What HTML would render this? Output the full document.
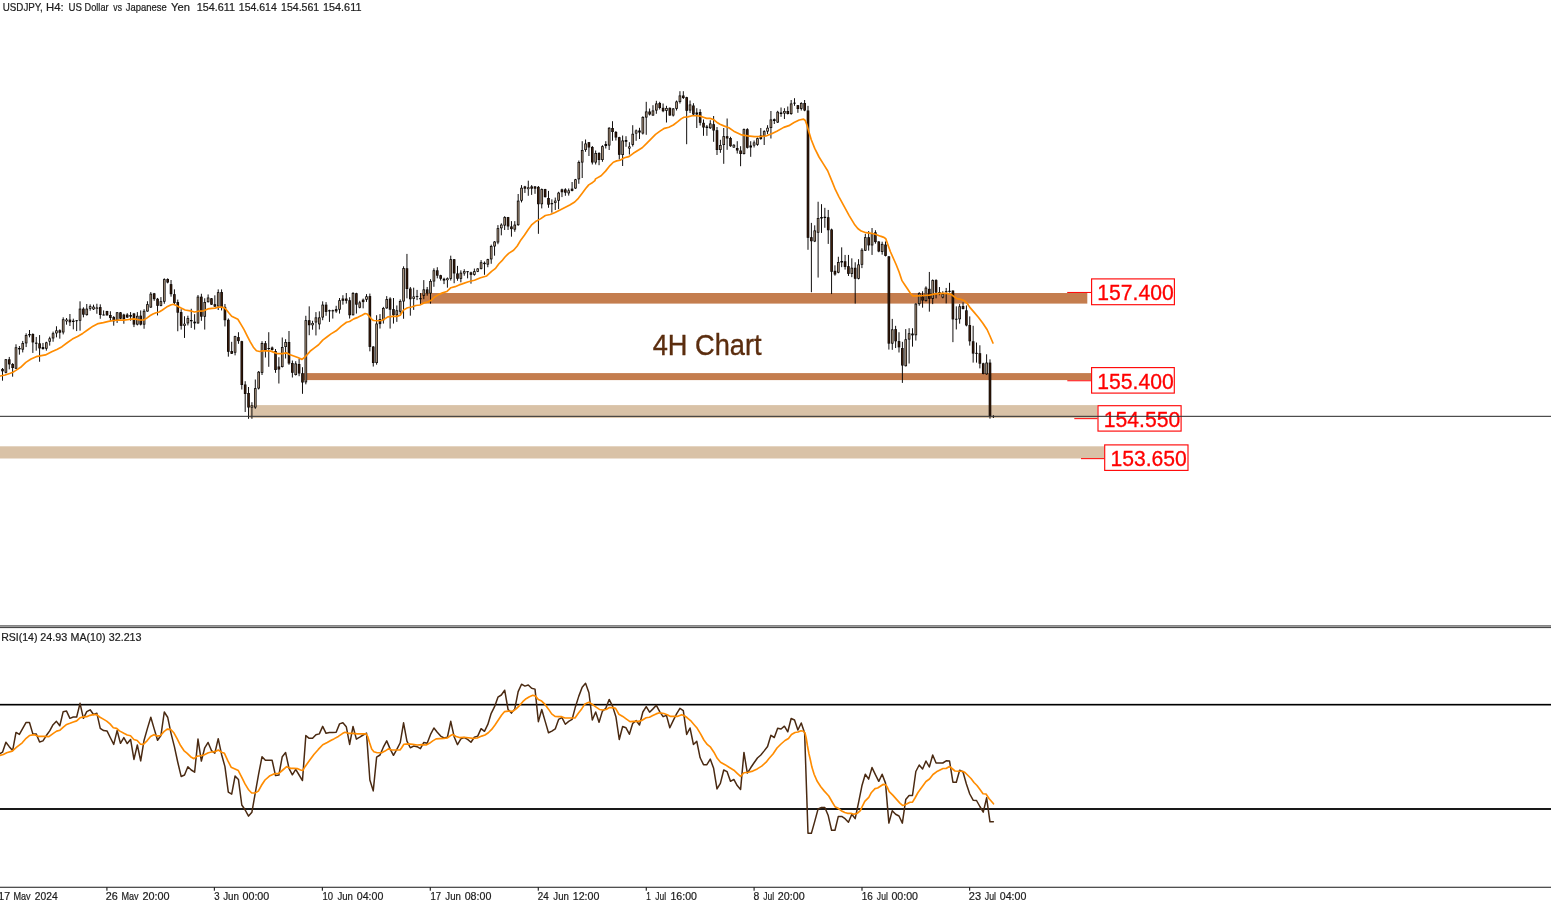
<!DOCTYPE html>
<html lang="en"><head><meta charset="utf-8"><title>USDJPY, H4</title>
<style>html,body{margin:0;padding:0;background:#fff;overflow:hidden}body{width:1551px;height:900px}svg{display:block}text{font-family:"Liberation Sans",Arial,sans-serif;white-space:pre}</style></head><body>
<svg width="1551" height="900" viewBox="0 0 1551 900">
<rect width="1551" height="900" fill="#fff"/>
<rect x="420.6" y="293.0" width="666.7" height="10.6" fill="#c47d4e"/>
<rect x="303.6" y="373.1" width="787.5" height="7" fill="#c47d4e"/>
<rect x="249.5" y="405.1" width="848" height="12.8" fill="#d9c2a7"/>
<rect x="0" y="446.3" width="1104.2" height="12.2" fill="#d9c2a7"/>
<g><rect x="2.04" y="368" width="0.95" height="12.67" fill="#060302"/>
<rect x="1.22" y="368.93" width="2.6" height="2.4" fill="#060302"/>
<rect x="1.92" y="369.53" width="1.2" height="1.2" fill="#3a1c0a"/>
<rect x="5.42" y="359.07" width="0.95" height="14.27" fill="#060302"/>
<rect x="4.59" y="359.33" width="2.6" height="13.33" fill="#060302"/>
<rect x="5.34" y="360.08" width="1.1" height="11.83" fill="#a8927c"/>
<rect x="8.79" y="356.93" width="0.95" height="12.4" fill="#060302"/>
<rect x="7.96" y="359.33" width="2.6" height="5.07" fill="#060302"/>
<rect x="8.66" y="359.93" width="1.2" height="3.87" fill="#3a1c0a"/>
<rect x="12.16" y="363.07" width="0.95" height="13.6" fill="#060302"/>
<rect x="11.33" y="364" width="2.6" height="4" fill="#060302"/>
<rect x="12.03" y="364.6" width="1.2" height="2.8" fill="#3a1c0a"/>
<rect x="15.53" y="344.27" width="0.95" height="24.67" fill="#060302"/>
<rect x="14.7" y="347.33" width="2.6" height="21.33" fill="#060302"/>
<rect x="15.45" y="348.08" width="1.1" height="19.83" fill="#a8927c"/>
<rect x="18.9" y="346" width="0.95" height="8.67" fill="#060302"/>
<rect x="18.07" y="348" width="2.6" height="1.33" fill="#060302"/>
<rect x="22.27" y="340.93" width="0.95" height="11.47" fill="#060302"/>
<rect x="21.44" y="343.07" width="2.6" height="6.53" fill="#060302"/>
<rect x="22.19" y="343.82" width="1.1" height="5.03" fill="#a8927c"/>
<rect x="25.64" y="333.33" width="0.95" height="13.73" fill="#060302"/>
<rect x="24.81" y="335.07" width="2.6" height="8.27" fill="#060302"/>
<rect x="25.56" y="335.82" width="1.1" height="6.77" fill="#a8927c"/>
<rect x="29.01" y="330" width="0.95" height="7.33" fill="#060302"/>
<rect x="28.18" y="334" width="2.6" height="1.33" fill="#060302"/>
<rect x="32.38" y="333.33" width="0.95" height="19.6" fill="#060302"/>
<rect x="31.55" y="334" width="2.6" height="8.4" fill="#060302"/>
<rect x="32.25" y="334.6" width="1.2" height="7.2" fill="#3a1c0a"/>
<rect x="35.75" y="336.93" width="0.95" height="13.73" fill="#060302"/>
<rect x="34.92" y="342.67" width="2.6" height="1.07" fill="#060302"/>
<rect x="39.12" y="335.07" width="0.95" height="26.67" fill="#060302"/>
<rect x="38.29" y="343.33" width="2.6" height="5.07" fill="#060302"/>
<rect x="38.99" y="343.93" width="1.2" height="3.87" fill="#3a1c0a"/>
<rect x="42.49" y="342.93" width="0.95" height="6.67" fill="#060302"/>
<rect x="41.66" y="347.07" width="2.6" height="2" fill="#060302"/>
<rect x="45.86" y="341.73" width="0.95" height="8.93" fill="#060302"/>
<rect x="45.03" y="342.4" width="2.6" height="6.27" fill="#060302"/>
<rect x="45.78" y="343.15" width="1.1" height="4.77" fill="#a8927c"/>
<rect x="49.23" y="336.67" width="0.95" height="8.93" fill="#060302"/>
<rect x="48.4" y="338.4" width="2.6" height="3.2" fill="#060302"/>
<rect x="49.15" y="339.15" width="1.1" height="1.7" fill="#d8c6b2"/>
<rect x="52.6" y="331.6" width="0.95" height="10.13" fill="#060302"/>
<rect x="51.77" y="333.33" width="2.6" height="5.07" fill="#060302"/>
<rect x="52.52" y="334.08" width="1.1" height="3.57" fill="#a8927c"/>
<rect x="55.97" y="326.27" width="0.95" height="11.07" fill="#060302"/>
<rect x="55.14" y="330.4" width="2.6" height="2.93" fill="#060302"/>
<rect x="55.89" y="331.15" width="1.1" height="1.43" fill="#d8c6b2"/>
<rect x="59.34" y="329.33" width="0.95" height="9.33" fill="#060302"/>
<rect x="58.51" y="330.27" width="2.6" height="2.4" fill="#060302"/>
<rect x="59.21" y="330.87" width="1.2" height="1.2" fill="#3a1c0a"/>
<rect x="62.71" y="317.33" width="0.95" height="17.07" fill="#060302"/>
<rect x="61.88" y="319.33" width="2.6" height="13.07" fill="#060302"/>
<rect x="62.63" y="320.08" width="1.1" height="11.57" fill="#a8927c"/>
<rect x="66.08" y="318" width="0.95" height="6.67" fill="#060302"/>
<rect x="65.25" y="319.6" width="2.6" height="1.73" fill="#060302"/>
<rect x="66" y="320.12" width="1.1" height="0.69" fill="#d8c6b2"/>
<rect x="69.45" y="314" width="0.95" height="12" fill="#060302"/>
<rect x="68.62" y="319.6" width="2.6" height="2.67" fill="#060302"/>
<rect x="69.32" y="320.2" width="1.2" height="1.47" fill="#3a1c0a"/>
<rect x="72.82" y="318.67" width="0.95" height="10.67" fill="#060302"/>
<rect x="71.99" y="320.67" width="2.6" height="1.33" fill="#060302"/>
<rect x="76.19" y="320" width="0.95" height="11.07" fill="#060302"/>
<rect x="75.36" y="320.28" width="2.6" height="0.9" fill="#060302"/>
<rect x="79.56" y="301.33" width="0.95" height="29.33" fill="#060302"/>
<rect x="78.73" y="308.67" width="2.6" height="12" fill="#060302"/>
<rect x="79.48" y="309.42" width="1.1" height="10.5" fill="#a8927c"/>
<rect x="82.93" y="307.33" width="0.95" height="10" fill="#060302"/>
<rect x="82.1" y="308.67" width="2.6" height="6" fill="#060302"/>
<rect x="82.8" y="309.27" width="1.2" height="4.8" fill="#3a1c0a"/>
<rect x="86.3" y="304" width="0.95" height="11.6" fill="#060302"/>
<rect x="85.47" y="308.67" width="2.6" height="6.4" fill="#060302"/>
<rect x="86.22" y="309.42" width="1.1" height="4.9" fill="#a8927c"/>
<rect x="89.67" y="304.4" width="0.95" height="6.27" fill="#060302"/>
<rect x="88.85" y="306.27" width="2.6" height="2.4" fill="#060302"/>
<rect x="89.6" y="306.99" width="1.1" height="0.96" fill="#d8c6b2"/>
<rect x="93.04" y="304.67" width="0.95" height="5.33" fill="#060302"/>
<rect x="92.22" y="306.67" width="2.6" height="2.67" fill="#060302"/>
<rect x="92.97" y="307.42" width="1.1" height="1.17" fill="#d8c6b2"/>
<rect x="96.41" y="303.75" width="0.95" height="10" fill="#060302"/>
<rect x="95.59" y="307.5" width="2.6" height="1.5" fill="#060302"/>
<rect x="96.34" y="307.95" width="1.1" height="0.6" fill="#d8c6b2"/>
<rect x="99.78" y="304.33" width="0.95" height="14.42" fill="#060302"/>
<rect x="98.96" y="307.08" width="2.6" height="7.92" fill="#060302"/>
<rect x="99.66" y="307.68" width="1.2" height="6.72" fill="#3a1c0a"/>
<rect x="103.15" y="310.42" width="0.95" height="5" fill="#060302"/>
<rect x="102.33" y="314.55" width="2.6" height="0.9" fill="#060302"/>
<rect x="106.52" y="310.83" width="0.95" height="4.58" fill="#060302"/>
<rect x="105.7" y="311" width="2.6" height="4.42" fill="#060302"/>
<rect x="106.4" y="311.6" width="1.2" height="3.22" fill="#3a1c0a"/>
<rect x="109.89" y="311.25" width="0.95" height="9.58" fill="#060302"/>
<rect x="109.07" y="315" width="2.6" height="2.92" fill="#060302"/>
<rect x="109.77" y="315.6" width="1.2" height="1.72" fill="#3a1c0a"/>
<rect x="113.26" y="316.08" width="0.95" height="9.58" fill="#060302"/>
<rect x="112.44" y="317.08" width="2.6" height="4.17" fill="#060302"/>
<rect x="113.14" y="317.68" width="1.2" height="2.97" fill="#3a1c0a"/>
<rect x="116.63" y="312.08" width="0.95" height="10.83" fill="#060302"/>
<rect x="115.81" y="312.33" width="2.6" height="8.08" fill="#060302"/>
<rect x="116.56" y="313.08" width="1.1" height="6.58" fill="#a8927c"/>
<rect x="120" y="312.08" width="0.95" height="7.08" fill="#060302"/>
<rect x="119.18" y="312.33" width="2.6" height="6.42" fill="#060302"/>
<rect x="119.88" y="312.93" width="1.2" height="5.22" fill="#3a1c0a"/>
<rect x="123.37" y="313.75" width="0.95" height="10" fill="#060302"/>
<rect x="122.55" y="314.58" width="2.6" height="4.58" fill="#060302"/>
<rect x="123.25" y="315.18" width="1.2" height="3.38" fill="#3a1c0a"/>
<rect x="126.74" y="313.17" width="0.95" height="4.75" fill="#060302"/>
<rect x="125.92" y="314.58" width="2.6" height="2.92" fill="#060302"/>
<rect x="126.62" y="315.18" width="1.2" height="1.72" fill="#3a1c0a"/>
<rect x="130.11" y="312.08" width="0.95" height="8.58" fill="#060302"/>
<rect x="129.29" y="315" width="2.6" height="1.67" fill="#060302"/>
<rect x="133.48" y="312.92" width="0.95" height="14.17" fill="#060302"/>
<rect x="132.66" y="313.5" width="2.6" height="11.08" fill="#060302"/>
<rect x="133.36" y="314.1" width="1.2" height="9.88" fill="#3a1c0a"/>
<rect x="136.85" y="312.08" width="0.95" height="13.33" fill="#060302"/>
<rect x="136.03" y="315.83" width="2.6" height="8.75" fill="#060302"/>
<rect x="136.78" y="316.58" width="1.1" height="7.25" fill="#a8927c"/>
<rect x="140.22" y="310.42" width="0.95" height="15" fill="#060302"/>
<rect x="139.4" y="315.67" width="2.6" height="8.92" fill="#060302"/>
<rect x="140.1" y="316.27" width="1.2" height="7.72" fill="#3a1c0a"/>
<rect x="143.59" y="309.17" width="0.95" height="19.58" fill="#060302"/>
<rect x="142.77" y="310.83" width="2.6" height="13.75" fill="#060302"/>
<rect x="143.52" y="311.58" width="1.1" height="12.25" fill="#a8927c"/>
<rect x="146.96" y="301.25" width="0.95" height="10.42" fill="#060302"/>
<rect x="146.14" y="304.17" width="2.6" height="7.33" fill="#060302"/>
<rect x="146.89" y="304.92" width="1.1" height="5.83" fill="#a8927c"/>
<rect x="150.33" y="292.08" width="0.95" height="15.83" fill="#060302"/>
<rect x="149.51" y="293.75" width="2.6" height="13.75" fill="#060302"/>
<rect x="150.26" y="294.5" width="1.1" height="12.25" fill="#a8927c"/>
<rect x="153.7" y="292.92" width="0.95" height="7.92" fill="#060302"/>
<rect x="152.88" y="293.33" width="2.6" height="5.83" fill="#060302"/>
<rect x="153.58" y="293.93" width="1.2" height="4.63" fill="#3a1c0a"/>
<rect x="157.07" y="297.92" width="0.95" height="17.5" fill="#060302"/>
<rect x="156.25" y="298.75" width="2.6" height="7.08" fill="#060302"/>
<rect x="156.95" y="299.35" width="1.2" height="5.88" fill="#3a1c0a"/>
<rect x="160.44" y="297.08" width="0.95" height="9.17" fill="#060302"/>
<rect x="159.62" y="301.25" width="2.6" height="4.58" fill="#060302"/>
<rect x="160.37" y="302" width="1.1" height="3.08" fill="#a8927c"/>
<rect x="163.81" y="278.33" width="0.95" height="25.42" fill="#060302"/>
<rect x="162.99" y="279.17" width="2.6" height="22.5" fill="#060302"/>
<rect x="163.74" y="279.92" width="1.1" height="21" fill="#a8927c"/>
<rect x="167.18" y="278.33" width="0.95" height="5" fill="#060302"/>
<rect x="166.36" y="279" width="2.6" height="3.5" fill="#060302"/>
<rect x="167.06" y="279.6" width="1.2" height="2.3" fill="#3a1c0a"/>
<rect x="170.56" y="280" width="0.95" height="16.67" fill="#060302"/>
<rect x="169.73" y="284.17" width="2.6" height="10" fill="#060302"/>
<rect x="170.43" y="284.77" width="1.2" height="8.8" fill="#3a1c0a"/>
<rect x="173.93" y="289.33" width="0.95" height="14.83" fill="#060302"/>
<rect x="173.1" y="294.17" width="2.6" height="8.75" fill="#060302"/>
<rect x="173.8" y="294.77" width="1.2" height="7.55" fill="#3a1c0a"/>
<rect x="177.3" y="299.58" width="0.95" height="31.67" fill="#060302"/>
<rect x="176.47" y="302.08" width="2.6" height="10.58" fill="#060302"/>
<rect x="177.17" y="302.68" width="1.2" height="9.38" fill="#3a1c0a"/>
<rect x="180.67" y="309.17" width="0.95" height="20.42" fill="#060302"/>
<rect x="179.84" y="312.08" width="2.6" height="13.75" fill="#060302"/>
<rect x="180.54" y="312.68" width="1.2" height="12.55" fill="#3a1c0a"/>
<rect x="184.04" y="316.25" width="0.95" height="21.67" fill="#060302"/>
<rect x="183.21" y="323.75" width="2.6" height="2.08" fill="#060302"/>
<rect x="183.96" y="324.38" width="1.1" height="0.83" fill="#d8c6b2"/>
<rect x="187.41" y="315.67" width="0.95" height="9.75" fill="#060302"/>
<rect x="186.58" y="318.17" width="2.6" height="5.17" fill="#060302"/>
<rect x="187.33" y="318.92" width="1.1" height="3.67" fill="#a8927c"/>
<rect x="190.78" y="308.75" width="0.95" height="19.17" fill="#060302"/>
<rect x="189.95" y="320" width="2.6" height="1.25" fill="#060302"/>
<rect x="194.15" y="314.17" width="0.95" height="15.42" fill="#060302"/>
<rect x="193.32" y="321.67" width="2.6" height="1.67" fill="#060302"/>
<rect x="197.52" y="295" width="0.95" height="28.75" fill="#060302"/>
<rect x="196.69" y="296.67" width="2.6" height="26.67" fill="#060302"/>
<rect x="197.44" y="297.42" width="1.1" height="25.17" fill="#a8927c"/>
<rect x="200.89" y="293.75" width="0.95" height="27.08" fill="#060302"/>
<rect x="200.06" y="296.67" width="2.6" height="20" fill="#060302"/>
<rect x="200.76" y="297.27" width="1.2" height="18.8" fill="#3a1c0a"/>
<rect x="204.26" y="298.27" width="0.95" height="31.29" fill="#060302"/>
<rect x="203.43" y="302" width="2.6" height="14.67" fill="#060302"/>
<rect x="204.18" y="302.75" width="1.1" height="13.17" fill="#a8927c"/>
<rect x="207.63" y="294.44" width="0.95" height="8" fill="#060302"/>
<rect x="206.8" y="297.56" width="2.6" height="4.62" fill="#060302"/>
<rect x="207.55" y="298.31" width="1.1" height="3.12" fill="#a8927c"/>
<rect x="211" y="298" width="0.95" height="6.84" fill="#060302"/>
<rect x="210.17" y="298.27" width="2.6" height="6.4" fill="#060302"/>
<rect x="210.87" y="298.87" width="1.2" height="5.2" fill="#3a1c0a"/>
<rect x="214.37" y="295.33" width="0.95" height="11.56" fill="#060302"/>
<rect x="213.54" y="304.22" width="2.6" height="2.4" fill="#060302"/>
<rect x="214.24" y="304.82" width="1.2" height="1.2" fill="#3a1c0a"/>
<rect x="217.74" y="289.38" width="0.95" height="20.62" fill="#060302"/>
<rect x="216.91" y="292.22" width="2.6" height="14.22" fill="#060302"/>
<rect x="217.66" y="292.97" width="1.1" height="12.72" fill="#a8927c"/>
<rect x="221.11" y="289.38" width="0.95" height="21.07" fill="#060302"/>
<rect x="220.28" y="292.04" width="2.6" height="15.29" fill="#060302"/>
<rect x="220.98" y="292.64" width="1.2" height="14.09" fill="#3a1c0a"/>
<rect x="224.48" y="303.96" width="0.95" height="22.49" fill="#060302"/>
<rect x="223.65" y="306.89" width="2.6" height="13.33" fill="#060302"/>
<rect x="224.35" y="307.49" width="1.2" height="12.13" fill="#3a1c0a"/>
<rect x="227.85" y="318.44" width="0.95" height="38.22" fill="#060302"/>
<rect x="227.02" y="319.78" width="2.6" height="32" fill="#060302"/>
<rect x="227.72" y="320.38" width="1.2" height="30.8" fill="#3a1c0a"/>
<rect x="231.22" y="341.82" width="0.95" height="12.18" fill="#060302"/>
<rect x="230.39" y="351.07" width="2.6" height="2.67" fill="#060302"/>
<rect x="231.09" y="351.67" width="1.2" height="1.47" fill="#3a1c0a"/>
<rect x="234.59" y="335.78" width="0.95" height="19.56" fill="#060302"/>
<rect x="233.76" y="336.22" width="2.6" height="16.44" fill="#060302"/>
<rect x="234.51" y="336.97" width="1.1" height="14.94" fill="#a8927c"/>
<rect x="237.96" y="332.22" width="0.95" height="11.56" fill="#060302"/>
<rect x="237.13" y="337.11" width="2.6" height="4" fill="#060302"/>
<rect x="237.83" y="337.71" width="1.2" height="2.8" fill="#3a1c0a"/>
<rect x="241.33" y="340.8" width="0.95" height="48.7" fill="#060302"/>
<rect x="240.5" y="341.2" width="2.6" height="43.8" fill="#060302"/>
<rect x="241.2" y="341.8" width="1.2" height="42.6" fill="#3a1c0a"/>
<rect x="244.7" y="381.2" width="0.95" height="30.8" fill="#060302"/>
<rect x="243.87" y="384.5" width="2.6" height="9.5" fill="#060302"/>
<rect x="244.57" y="385.1" width="1.2" height="8.3" fill="#3a1c0a"/>
<rect x="248.07" y="387" width="0.95" height="31.8" fill="#060302"/>
<rect x="247.24" y="393" width="2.6" height="14.5" fill="#060302"/>
<rect x="247.94" y="393.6" width="1.2" height="13.3" fill="#3a1c0a"/>
<rect x="251.44" y="402.2" width="0.95" height="16.6" fill="#060302"/>
<rect x="250.61" y="405.5" width="2.6" height="2" fill="#060302"/>
<rect x="251.36" y="406.1" width="1.1" height="0.8" fill="#d8c6b2"/>
<rect x="254.81" y="379.5" width="0.95" height="29.3" fill="#060302"/>
<rect x="253.99" y="388.2" width="2.6" height="19.3" fill="#060302"/>
<rect x="254.74" y="388.95" width="1.1" height="17.8" fill="#a8927c"/>
<rect x="258.18" y="371" width="0.95" height="18.5" fill="#060302"/>
<rect x="257.36" y="371.8" width="2.6" height="16.7" fill="#060302"/>
<rect x="258.11" y="372.55" width="1.1" height="15.2" fill="#a8927c"/>
<rect x="261.55" y="341.2" width="0.95" height="33.8" fill="#060302"/>
<rect x="260.73" y="343" width="2.6" height="29.8" fill="#060302"/>
<rect x="261.48" y="343.75" width="1.1" height="28.3" fill="#a8927c"/>
<rect x="264.92" y="341" width="0.95" height="16.5" fill="#060302"/>
<rect x="264.1" y="343.2" width="2.6" height="6.8" fill="#060302"/>
<rect x="264.8" y="343.8" width="1.2" height="5.6" fill="#3a1c0a"/>
<rect x="268.29" y="332.2" width="0.95" height="34.6" fill="#060302"/>
<rect x="267.47" y="348" width="2.6" height="1" fill="#060302"/>
<rect x="271.66" y="346.5" width="0.95" height="4" fill="#060302"/>
<rect x="270.84" y="347.5" width="2.6" height="2.5" fill="#060302"/>
<rect x="271.54" y="348.1" width="1.2" height="1.3" fill="#3a1c0a"/>
<rect x="275.03" y="349" width="0.95" height="23.8" fill="#060302"/>
<rect x="274.21" y="351" width="2.6" height="19" fill="#060302"/>
<rect x="274.91" y="351.6" width="1.2" height="17.8" fill="#3a1c0a"/>
<rect x="278.4" y="357.2" width="0.95" height="26.3" fill="#060302"/>
<rect x="277.58" y="366.5" width="2.6" height="3" fill="#060302"/>
<rect x="278.28" y="367.1" width="1.2" height="1.8" fill="#3a1c0a"/>
<rect x="281.77" y="337.5" width="0.95" height="30" fill="#060302"/>
<rect x="280.95" y="347" width="2.6" height="20" fill="#060302"/>
<rect x="281.7" y="347.75" width="1.1" height="18.5" fill="#a8927c"/>
<rect x="285.14" y="339.2" width="0.95" height="19.3" fill="#060302"/>
<rect x="284.32" y="342" width="2.6" height="5" fill="#060302"/>
<rect x="285.07" y="342.75" width="1.1" height="3.5" fill="#a8927c"/>
<rect x="288.51" y="331" width="0.95" height="33.8" fill="#060302"/>
<rect x="287.69" y="342" width="2.6" height="21.5" fill="#060302"/>
<rect x="288.39" y="342.6" width="1.2" height="20.3" fill="#3a1c0a"/>
<rect x="291.88" y="360.5" width="0.95" height="17" fill="#060302"/>
<rect x="291.06" y="363" width="2.6" height="9.8" fill="#060302"/>
<rect x="291.76" y="363.6" width="1.2" height="8.6" fill="#3a1c0a"/>
<rect x="295.25" y="361.2" width="0.95" height="14.3" fill="#060302"/>
<rect x="294.43" y="363.5" width="2.6" height="11.5" fill="#060302"/>
<rect x="295.18" y="364.25" width="1.1" height="10" fill="#a8927c"/>
<rect x="298.62" y="359" width="0.95" height="17.2" fill="#060302"/>
<rect x="297.8" y="364" width="2.6" height="9.5" fill="#060302"/>
<rect x="298.5" y="364.6" width="1.2" height="8.3" fill="#3a1c0a"/>
<rect x="301.99" y="367.2" width="0.95" height="26.6" fill="#060302"/>
<rect x="301.17" y="373.2" width="2.6" height="9.3" fill="#060302"/>
<rect x="301.87" y="373.8" width="1.2" height="8.1" fill="#3a1c0a"/>
<rect x="305.36" y="315.78" width="0.95" height="68.56" fill="#060302"/>
<rect x="304.54" y="320.22" width="2.6" height="62.11" fill="#060302"/>
<rect x="305.29" y="320.97" width="1.1" height="60.61" fill="#a8927c"/>
<rect x="308.73" y="306.33" width="0.95" height="28.89" fill="#060302"/>
<rect x="307.91" y="320.22" width="2.6" height="5" fill="#060302"/>
<rect x="308.61" y="320.82" width="1.2" height="3.8" fill="#3a1c0a"/>
<rect x="312.1" y="320.78" width="0.95" height="8.89" fill="#060302"/>
<rect x="311.28" y="323" width="2.6" height="2.22" fill="#060302"/>
<rect x="312.03" y="323.67" width="1.1" height="0.89" fill="#d8c6b2"/>
<rect x="315.47" y="312.11" width="0.95" height="23.33" fill="#060302"/>
<rect x="314.65" y="317.44" width="2.6" height="5" fill="#060302"/>
<rect x="315.4" y="318.19" width="1.1" height="3.5" fill="#a8927c"/>
<rect x="318.84" y="311.33" width="0.95" height="18.11" fill="#060302"/>
<rect x="318.02" y="317.44" width="2.6" height="6.89" fill="#060302"/>
<rect x="318.77" y="318.19" width="1.1" height="5.39" fill="#a8927c"/>
<rect x="322.21" y="301.33" width="0.95" height="18.89" fill="#060302"/>
<rect x="321.39" y="304.67" width="2.6" height="12.78" fill="#060302"/>
<rect x="322.14" y="305.42" width="1.1" height="11.28" fill="#a8927c"/>
<rect x="325.58" y="302.11" width="0.95" height="13.67" fill="#060302"/>
<rect x="324.76" y="304.67" width="2.6" height="7.22" fill="#060302"/>
<rect x="325.46" y="305.27" width="1.2" height="6.02" fill="#3a1c0a"/>
<rect x="328.95" y="309.67" width="0.95" height="12.22" fill="#060302"/>
<rect x="328.13" y="310.22" width="2.6" height="1.11" fill="#060302"/>
<rect x="332.32" y="309.67" width="0.95" height="8.89" fill="#060302"/>
<rect x="331.5" y="310.22" width="2.6" height="1.11" fill="#060302"/>
<rect x="335.69" y="305.78" width="0.95" height="7" fill="#060302"/>
<rect x="334.87" y="309.11" width="2.6" height="2.22" fill="#060302"/>
<rect x="335.57" y="309.71" width="1.2" height="1.02" fill="#3a1c0a"/>
<rect x="339.06" y="298" width="0.95" height="15.56" fill="#060302"/>
<rect x="338.24" y="300.22" width="2.6" height="9.44" fill="#060302"/>
<rect x="338.99" y="300.97" width="1.1" height="7.94" fill="#a8927c"/>
<rect x="342.44" y="295.22" width="0.95" height="9.44" fill="#060302"/>
<rect x="341.61" y="298.56" width="2.6" height="2.22" fill="#060302"/>
<rect x="342.31" y="299.16" width="1.2" height="1.02" fill="#3a1c0a"/>
<rect x="345.81" y="293" width="0.95" height="10.56" fill="#060302"/>
<rect x="344.98" y="298.56" width="2.6" height="2.22" fill="#060302"/>
<rect x="345.68" y="299.16" width="1.2" height="1.02" fill="#3a1c0a"/>
<rect x="349.18" y="297.22" width="0.95" height="21.33" fill="#060302"/>
<rect x="348.35" y="300.22" width="2.6" height="15" fill="#060302"/>
<rect x="349.05" y="300.82" width="1.2" height="13.8" fill="#3a1c0a"/>
<rect x="352.55" y="292.11" width="0.95" height="23.33" fill="#060302"/>
<rect x="351.72" y="293" width="2.6" height="22.22" fill="#060302"/>
<rect x="352.47" y="293.75" width="1.1" height="20.72" fill="#a8927c"/>
<rect x="355.92" y="292.78" width="0.95" height="20.78" fill="#060302"/>
<rect x="355.09" y="293.22" width="2.6" height="11.44" fill="#060302"/>
<rect x="355.79" y="293.82" width="1.2" height="10.24" fill="#3a1c0a"/>
<rect x="359.29" y="300.78" width="0.95" height="7.56" fill="#060302"/>
<rect x="358.46" y="302.44" width="2.6" height="5.22" fill="#060302"/>
<rect x="359.21" y="303.19" width="1.1" height="3.72" fill="#a8927c"/>
<rect x="362.66" y="298.56" width="0.95" height="9.78" fill="#060302"/>
<rect x="361.83" y="299.67" width="2.6" height="2.44" fill="#060302"/>
<rect x="362.53" y="300.27" width="1.2" height="1.24" fill="#3a1c0a"/>
<rect x="366.03" y="294.11" width="0.95" height="7.78" fill="#060302"/>
<rect x="365.2" y="296.33" width="2.6" height="3.33" fill="#060302"/>
<rect x="365.95" y="297.08" width="1.1" height="1.83" fill="#d8c6b2"/>
<rect x="369.4" y="293.56" width="0.95" height="57.78" fill="#060302"/>
<rect x="368.57" y="296.11" width="2.6" height="50.78" fill="#060302"/>
<rect x="369.27" y="296.71" width="1.2" height="49.58" fill="#3a1c0a"/>
<rect x="372.77" y="346.11" width="0.95" height="20.44" fill="#060302"/>
<rect x="371.94" y="346.56" width="2.6" height="16.44" fill="#060302"/>
<rect x="372.64" y="347.16" width="1.2" height="15.24" fill="#3a1c0a"/>
<rect x="376.14" y="315.22" width="0.95" height="49.44" fill="#060302"/>
<rect x="375.31" y="323.56" width="2.6" height="39.44" fill="#060302"/>
<rect x="376.06" y="324.31" width="1.1" height="37.94" fill="#a8927c"/>
<rect x="379.51" y="314.11" width="0.95" height="14.44" fill="#060302"/>
<rect x="378.68" y="319.11" width="2.6" height="5" fill="#060302"/>
<rect x="379.38" y="319.71" width="1.2" height="3.8" fill="#3a1c0a"/>
<rect x="382.88" y="306.89" width="0.95" height="16.67" fill="#060302"/>
<rect x="382.05" y="308" width="2.6" height="12.22" fill="#060302"/>
<rect x="382.8" y="308.75" width="1.1" height="10.72" fill="#a8927c"/>
<rect x="386.25" y="296.11" width="0.95" height="12.67" fill="#060302"/>
<rect x="385.42" y="299.11" width="2.6" height="9.22" fill="#060302"/>
<rect x="386.17" y="299.86" width="1.1" height="7.72" fill="#a8927c"/>
<rect x="389.62" y="297.22" width="0.95" height="31.33" fill="#060302"/>
<rect x="388.79" y="298.56" width="2.6" height="11.11" fill="#060302"/>
<rect x="389.49" y="299.16" width="1.2" height="9.91" fill="#3a1c0a"/>
<rect x="392.99" y="298" width="0.95" height="25.56" fill="#060302"/>
<rect x="392.16" y="309.11" width="2.6" height="6.11" fill="#060302"/>
<rect x="392.86" y="309.71" width="1.2" height="4.91" fill="#3a1c0a"/>
<rect x="396.36" y="305.44" width="0.95" height="16.44" fill="#060302"/>
<rect x="395.53" y="310.33" width="2.6" height="4.89" fill="#060302"/>
<rect x="396.28" y="311.08" width="1.1" height="3.39" fill="#a8927c"/>
<rect x="399.73" y="299.4" width="0.95" height="14.93" fill="#060302"/>
<rect x="398.9" y="301" width="2.6" height="10.67" fill="#060302"/>
<rect x="399.65" y="301.75" width="1.1" height="9.17" fill="#a8927c"/>
<rect x="403.1" y="266.33" width="0.95" height="52.44" fill="#060302"/>
<rect x="402.27" y="268.11" width="2.6" height="33.33" fill="#060302"/>
<rect x="403.02" y="268.86" width="1.1" height="31.83" fill="#a8927c"/>
<rect x="406.47" y="253.89" width="0.95" height="44.44" fill="#060302"/>
<rect x="405.64" y="268.29" width="2.6" height="20.71" fill="#060302"/>
<rect x="406.34" y="268.89" width="1.2" height="19.51" fill="#3a1c0a"/>
<rect x="409.84" y="286.96" width="0.95" height="28.71" fill="#060302"/>
<rect x="409.01" y="288.56" width="2.6" height="10.67" fill="#060302"/>
<rect x="409.71" y="289.16" width="1.2" height="9.47" fill="#3a1c0a"/>
<rect x="413.21" y="287.67" width="0.95" height="22.22" fill="#060302"/>
<rect x="412.38" y="296.56" width="2.6" height="2.22" fill="#060302"/>
<rect x="413.13" y="297.22" width="1.1" height="0.89" fill="#d8c6b2"/>
<rect x="416.58" y="289.89" width="0.95" height="10.22" fill="#060302"/>
<rect x="415.75" y="295.97" width="2.6" height="0.9" fill="#060302"/>
<rect x="419.95" y="293" width="0.95" height="11.11" fill="#060302"/>
<rect x="419.12" y="298.16" width="2.6" height="1.07" fill="#060302"/>
<rect x="423.32" y="280.11" width="0.95" height="19.11" fill="#060302"/>
<rect x="422.5" y="289.44" width="2.6" height="6.22" fill="#060302"/>
<rect x="423.25" y="290.19" width="1.1" height="4.72" fill="#a8927c"/>
<rect x="426.69" y="286.96" width="0.95" height="8.71" fill="#060302"/>
<rect x="425.87" y="289.44" width="2.6" height="4" fill="#060302"/>
<rect x="426.57" y="290.04" width="1.2" height="2.8" fill="#3a1c0a"/>
<rect x="430.06" y="279.22" width="0.95" height="24.44" fill="#060302"/>
<rect x="429.24" y="281" width="2.6" height="12.44" fill="#060302"/>
<rect x="429.99" y="281.75" width="1.1" height="10.94" fill="#a8927c"/>
<rect x="433.43" y="268.29" width="0.95" height="18.49" fill="#060302"/>
<rect x="432.61" y="270.33" width="2.6" height="11.11" fill="#060302"/>
<rect x="433.36" y="271.08" width="1.1" height="9.61" fill="#a8927c"/>
<rect x="436.8" y="267.22" width="0.95" height="11.11" fill="#060302"/>
<rect x="435.98" y="270.33" width="2.6" height="5.33" fill="#060302"/>
<rect x="436.68" y="270.93" width="1.2" height="4.13" fill="#3a1c0a"/>
<rect x="440.17" y="274.78" width="0.95" height="5.78" fill="#060302"/>
<rect x="439.35" y="275.22" width="2.6" height="3.56" fill="#060302"/>
<rect x="440.05" y="275.82" width="1.2" height="2.36" fill="#3a1c0a"/>
<rect x="443.54" y="277.71" width="0.95" height="6.4" fill="#060302"/>
<rect x="442.72" y="278.78" width="2.6" height="1.78" fill="#060302"/>
<rect x="446.91" y="277.44" width="0.95" height="10.22" fill="#060302"/>
<rect x="446.09" y="278.33" width="2.6" height="1.78" fill="#060302"/>
<rect x="446.84" y="278.87" width="1.1" height="0.71" fill="#d8c6b2"/>
<rect x="450.28" y="255.67" width="0.95" height="24.89" fill="#060302"/>
<rect x="449.46" y="259.22" width="2.6" height="19.56" fill="#060302"/>
<rect x="450.21" y="259.97" width="1.1" height="18.06" fill="#a8927c"/>
<rect x="453.65" y="259.04" width="0.95" height="24.18" fill="#060302"/>
<rect x="452.83" y="259.22" width="2.6" height="14.22" fill="#060302"/>
<rect x="453.53" y="259.82" width="1.2" height="13.02" fill="#3a1c0a"/>
<rect x="457.02" y="265.89" width="0.95" height="14.84" fill="#060302"/>
<rect x="456.2" y="273.44" width="2.6" height="5.33" fill="#060302"/>
<rect x="456.9" y="274.04" width="1.2" height="4.13" fill="#3a1c0a"/>
<rect x="460.39" y="270.33" width="0.95" height="12" fill="#060302"/>
<rect x="459.57" y="272.73" width="2.6" height="6.04" fill="#060302"/>
<rect x="460.32" y="273.48" width="1.1" height="4.54" fill="#a8927c"/>
<rect x="463.76" y="269.18" width="0.95" height="6.49" fill="#060302"/>
<rect x="462.94" y="271.22" width="2.6" height="2.22" fill="#060302"/>
<rect x="463.69" y="271.89" width="1.1" height="0.89" fill="#d8c6b2"/>
<rect x="467.13" y="271.22" width="0.95" height="7.11" fill="#060302"/>
<rect x="466.31" y="271.22" width="2.6" height="0.9" fill="#060302"/>
<rect x="470.5" y="271.67" width="0.95" height="12" fill="#060302"/>
<rect x="469.68" y="272.38" width="2.6" height="2.4" fill="#060302"/>
<rect x="470.38" y="272.98" width="1.2" height="1.2" fill="#3a1c0a"/>
<rect x="473.87" y="268.56" width="0.95" height="7.11" fill="#060302"/>
<rect x="473.05" y="271.22" width="2.6" height="3.56" fill="#060302"/>
<rect x="473.8" y="271.97" width="1.1" height="2.06" fill="#d8c6b2"/>
<rect x="477.24" y="268.11" width="0.95" height="4" fill="#060302"/>
<rect x="476.42" y="268.56" width="2.6" height="3.11" fill="#060302"/>
<rect x="477.17" y="269.31" width="1.1" height="1.61" fill="#d8c6b2"/>
<rect x="480.61" y="260.11" width="0.95" height="9.33" fill="#060302"/>
<rect x="479.79" y="262.33" width="2.6" height="6.49" fill="#060302"/>
<rect x="480.54" y="263.08" width="1.1" height="4.99" fill="#a8927c"/>
<rect x="483.98" y="261.44" width="0.95" height="13.33" fill="#060302"/>
<rect x="483.16" y="262.78" width="2.6" height="1.33" fill="#060302"/>
<rect x="487.35" y="258.78" width="0.95" height="8.44" fill="#060302"/>
<rect x="486.53" y="259.22" width="2.6" height="5.33" fill="#060302"/>
<rect x="487.28" y="259.97" width="1.1" height="3.83" fill="#a8927c"/>
<rect x="490.72" y="244.67" width="0.95" height="19.11" fill="#060302"/>
<rect x="489.9" y="246" width="2.6" height="13.33" fill="#060302"/>
<rect x="490.65" y="246.75" width="1.1" height="11.83" fill="#a8927c"/>
<rect x="494.09" y="241.11" width="0.95" height="14.58" fill="#060302"/>
<rect x="493.27" y="241.56" width="2.6" height="4.89" fill="#060302"/>
<rect x="494.02" y="242.31" width="1.1" height="3.39" fill="#a8927c"/>
<rect x="497.46" y="225.11" width="0.95" height="19.11" fill="#060302"/>
<rect x="496.64" y="228.22" width="2.6" height="14.22" fill="#060302"/>
<rect x="497.39" y="228.97" width="1.1" height="12.72" fill="#a8927c"/>
<rect x="500.83" y="223.33" width="0.95" height="12" fill="#060302"/>
<rect x="500.01" y="224.67" width="2.6" height="3.56" fill="#060302"/>
<rect x="500.76" y="225.42" width="1.1" height="2.06" fill="#d8c6b2"/>
<rect x="504.2" y="216.22" width="0.95" height="13.78" fill="#060302"/>
<rect x="503.38" y="217.11" width="2.6" height="8.44" fill="#060302"/>
<rect x="504.13" y="217.86" width="1.1" height="6.94" fill="#a8927c"/>
<rect x="507.57" y="216.93" width="0.95" height="13.07" fill="#060302"/>
<rect x="506.75" y="217.11" width="2.6" height="9.33" fill="#060302"/>
<rect x="507.45" y="217.71" width="1.2" height="8.13" fill="#3a1c0a"/>
<rect x="510.95" y="221.11" width="0.95" height="15.56" fill="#060302"/>
<rect x="510.12" y="226.44" width="2.6" height="2.67" fill="#060302"/>
<rect x="510.82" y="227.04" width="1.2" height="1.47" fill="#3a1c0a"/>
<rect x="514.32" y="221.11" width="0.95" height="10.67" fill="#060302"/>
<rect x="513.49" y="224.67" width="2.6" height="4.89" fill="#060302"/>
<rect x="514.24" y="225.42" width="1.1" height="3.39" fill="#a8927c"/>
<rect x="517.69" y="194" width="0.95" height="31.82" fill="#060302"/>
<rect x="516.86" y="200.67" width="2.6" height="24.44" fill="#060302"/>
<rect x="517.61" y="201.42" width="1.1" height="22.94" fill="#a8927c"/>
<rect x="521.06" y="185.11" width="0.95" height="17.33" fill="#060302"/>
<rect x="520.23" y="187.78" width="2.6" height="12.89" fill="#060302"/>
<rect x="520.98" y="188.53" width="1.1" height="11.39" fill="#a8927c"/>
<rect x="524.43" y="185.82" width="0.95" height="7.11" fill="#060302"/>
<rect x="523.6" y="186.44" width="2.6" height="2.22" fill="#060302"/>
<rect x="524.3" y="187.04" width="1.2" height="1.02" fill="#3a1c0a"/>
<rect x="527.8" y="180.67" width="0.95" height="15.11" fill="#060302"/>
<rect x="526.97" y="187.33" width="2.6" height="1.78" fill="#060302"/>
<rect x="527.72" y="187.87" width="1.1" height="0.71" fill="#d8c6b2"/>
<rect x="531.17" y="185.11" width="0.95" height="9.78" fill="#060302"/>
<rect x="530.34" y="186.44" width="2.6" height="2.22" fill="#060302"/>
<rect x="531.04" y="187.04" width="1.2" height="1.02" fill="#3a1c0a"/>
<rect x="534.54" y="186" width="0.95" height="7.82" fill="#060302"/>
<rect x="533.71" y="186.44" width="2.6" height="2.22" fill="#060302"/>
<rect x="534.41" y="187.04" width="1.2" height="1.02" fill="#3a1c0a"/>
<rect x="537.91" y="186" width="0.95" height="47.82" fill="#060302"/>
<rect x="537.08" y="186.89" width="2.6" height="17.33" fill="#060302"/>
<rect x="537.78" y="187.49" width="1.2" height="16.13" fill="#3a1c0a"/>
<rect x="541.28" y="188.49" width="0.95" height="19.91" fill="#060302"/>
<rect x="540.45" y="189.11" width="2.6" height="15.11" fill="#060302"/>
<rect x="541.2" y="189.86" width="1.1" height="13.61" fill="#a8927c"/>
<rect x="544.65" y="188.84" width="0.95" height="8.71" fill="#060302"/>
<rect x="543.82" y="189.11" width="2.6" height="8" fill="#060302"/>
<rect x="544.52" y="189.71" width="1.2" height="6.8" fill="#3a1c0a"/>
<rect x="548.02" y="190.89" width="0.95" height="16.89" fill="#060302"/>
<rect x="547.19" y="198" width="2.6" height="6.67" fill="#060302"/>
<rect x="547.89" y="198.6" width="1.2" height="5.47" fill="#3a1c0a"/>
<rect x="551.39" y="199.33" width="0.95" height="13.33" fill="#060302"/>
<rect x="550.56" y="203.07" width="2.6" height="1.16" fill="#060302"/>
<rect x="554.76" y="197.56" width="0.95" height="12.44" fill="#060302"/>
<rect x="553.93" y="200.67" width="2.6" height="2.22" fill="#060302"/>
<rect x="554.68" y="201.33" width="1.1" height="0.89" fill="#d8c6b2"/>
<rect x="558.13" y="191.78" width="0.95" height="17.33" fill="#060302"/>
<rect x="557.3" y="192.67" width="2.6" height="8" fill="#060302"/>
<rect x="558.05" y="193.42" width="1.1" height="6.5" fill="#a8927c"/>
<rect x="561.5" y="188.67" width="0.95" height="8.44" fill="#060302"/>
<rect x="560.67" y="189.38" width="2.6" height="2.84" fill="#060302"/>
<rect x="561.37" y="189.98" width="1.2" height="1.64" fill="#3a1c0a"/>
<rect x="564.87" y="188.22" width="0.95" height="7.56" fill="#060302"/>
<rect x="564.04" y="189.38" width="2.6" height="3.29" fill="#060302"/>
<rect x="564.74" y="189.98" width="1.2" height="2.09" fill="#3a1c0a"/>
<rect x="568.24" y="188.49" width="0.95" height="7.11" fill="#060302"/>
<rect x="567.41" y="190.44" width="2.6" height="2.84" fill="#060302"/>
<rect x="568.16" y="191.19" width="1.1" height="1.34" fill="#d8c6b2"/>
<rect x="571.61" y="182" width="0.95" height="9.33" fill="#060302"/>
<rect x="570.78" y="188.67" width="2.6" height="2.22" fill="#060302"/>
<rect x="571.48" y="189.27" width="1.2" height="1.02" fill="#3a1c0a"/>
<rect x="574.98" y="178.89" width="0.95" height="9.96" fill="#060302"/>
<rect x="574.15" y="179.33" width="2.6" height="9.16" fill="#060302"/>
<rect x="574.9" y="180.08" width="1.1" height="7.66" fill="#a8927c"/>
<rect x="578.35" y="160.5" width="0.95" height="23.3" fill="#060302"/>
<rect x="577.52" y="162" width="2.6" height="17.3" fill="#060302"/>
<rect x="578.27" y="162.75" width="1.1" height="15.8" fill="#a8927c"/>
<rect x="581.72" y="141.2" width="0.95" height="36.8" fill="#060302"/>
<rect x="580.89" y="150" width="2.6" height="12.5" fill="#060302"/>
<rect x="581.64" y="150.75" width="1.1" height="11" fill="#a8927c"/>
<rect x="585.09" y="139.5" width="0.95" height="12.3" fill="#060302"/>
<rect x="584.26" y="143.5" width="2.6" height="6.5" fill="#060302"/>
<rect x="585.01" y="144.25" width="1.1" height="5" fill="#a8927c"/>
<rect x="588.46" y="142" width="0.95" height="14" fill="#060302"/>
<rect x="587.63" y="142.2" width="2.6" height="5.3" fill="#060302"/>
<rect x="588.33" y="142.8" width="1.2" height="4.1" fill="#3a1c0a"/>
<rect x="591.83" y="146" width="0.95" height="18.5" fill="#060302"/>
<rect x="591" y="147" width="2.6" height="15.5" fill="#060302"/>
<rect x="591.71" y="147.6" width="1.2" height="14.3" fill="#3a1c0a"/>
<rect x="595.2" y="150.5" width="0.95" height="14" fill="#060302"/>
<rect x="594.38" y="153" width="2.6" height="9.5" fill="#060302"/>
<rect x="595.13" y="153.75" width="1.1" height="8" fill="#a8927c"/>
<rect x="598.57" y="152.2" width="0.95" height="13" fill="#060302"/>
<rect x="597.75" y="153" width="2.6" height="7" fill="#060302"/>
<rect x="598.45" y="153.6" width="1.2" height="5.8" fill="#3a1c0a"/>
<rect x="601.94" y="145.2" width="0.95" height="16.6" fill="#060302"/>
<rect x="601.12" y="146.2" width="2.6" height="13.8" fill="#060302"/>
<rect x="601.87" y="146.95" width="1.1" height="12.3" fill="#a8927c"/>
<rect x="605.31" y="141.2" width="0.95" height="7.3" fill="#060302"/>
<rect x="604.49" y="144" width="2.6" height="2" fill="#060302"/>
<rect x="608.68" y="127.2" width="0.95" height="22.8" fill="#060302"/>
<rect x="607.86" y="127.8" width="2.6" height="17.7" fill="#060302"/>
<rect x="608.61" y="128.55" width="1.1" height="16.2" fill="#a8927c"/>
<rect x="612.05" y="121.2" width="0.95" height="19.6" fill="#060302"/>
<rect x="611.23" y="128" width="2.6" height="4" fill="#060302"/>
<rect x="611.93" y="128.6" width="1.2" height="2.8" fill="#3a1c0a"/>
<rect x="615.42" y="131" width="0.95" height="9.5" fill="#060302"/>
<rect x="614.6" y="132" width="2.6" height="5.5" fill="#060302"/>
<rect x="615.3" y="132.6" width="1.2" height="4.3" fill="#3a1c0a"/>
<rect x="618.79" y="136.8" width="0.95" height="22.7" fill="#060302"/>
<rect x="617.97" y="137.2" width="2.6" height="17.6" fill="#060302"/>
<rect x="618.67" y="137.8" width="1.2" height="16.4" fill="#3a1c0a"/>
<rect x="622.16" y="135.5" width="0.95" height="30.5" fill="#060302"/>
<rect x="621.34" y="140.5" width="2.6" height="14.5" fill="#060302"/>
<rect x="622.09" y="141.25" width="1.1" height="13" fill="#a8927c"/>
<rect x="625.53" y="136.2" width="0.95" height="10.6" fill="#060302"/>
<rect x="624.71" y="140" width="2.6" height="1.8" fill="#060302"/>
<rect x="628.9" y="142.2" width="0.95" height="12.3" fill="#060302"/>
<rect x="628.08" y="146.5" width="2.6" height="2" fill="#060302"/>
<rect x="628.83" y="147.1" width="1.1" height="0.8" fill="#d8c6b2"/>
<rect x="632.27" y="125.2" width="0.95" height="21.3" fill="#060302"/>
<rect x="631.45" y="133.8" width="2.6" height="11" fill="#060302"/>
<rect x="632.2" y="134.55" width="1.1" height="9.5" fill="#a8927c"/>
<rect x="635.64" y="129.5" width="0.95" height="11.3" fill="#060302"/>
<rect x="634.82" y="130.5" width="2.6" height="3" fill="#060302"/>
<rect x="635.57" y="131.25" width="1.1" height="1.5" fill="#d8c6b2"/>
<rect x="639.01" y="127.8" width="0.95" height="11.2" fill="#060302"/>
<rect x="638.19" y="130.5" width="2.6" height="2" fill="#060302"/>
<rect x="642.38" y="116.2" width="0.95" height="18.3" fill="#060302"/>
<rect x="641.56" y="117" width="2.6" height="16.5" fill="#060302"/>
<rect x="642.31" y="117.75" width="1.1" height="15" fill="#a8927c"/>
<rect x="645.75" y="101.8" width="0.95" height="33" fill="#060302"/>
<rect x="644.93" y="111.5" width="2.6" height="6" fill="#060302"/>
<rect x="645.68" y="112.25" width="1.1" height="4.5" fill="#a8927c"/>
<rect x="649.12" y="108.5" width="0.95" height="7" fill="#060302"/>
<rect x="648.3" y="111.5" width="2.6" height="3" fill="#060302"/>
<rect x="649" y="112.1" width="1.2" height="1.8" fill="#3a1c0a"/>
<rect x="652.49" y="105.2" width="0.95" height="10.6" fill="#060302"/>
<rect x="651.67" y="110.5" width="2.6" height="5" fill="#060302"/>
<rect x="652.42" y="111.25" width="1.1" height="3.5" fill="#a8927c"/>
<rect x="655.86" y="100.8" width="0.95" height="13" fill="#060302"/>
<rect x="655.04" y="103.5" width="2.6" height="7" fill="#060302"/>
<rect x="655.79" y="104.25" width="1.1" height="5.5" fill="#a8927c"/>
<rect x="659.23" y="101.8" width="0.95" height="7.7" fill="#060302"/>
<rect x="658.41" y="103" width="2.6" height="5" fill="#060302"/>
<rect x="659.11" y="103.6" width="1.2" height="3.8" fill="#3a1c0a"/>
<rect x="662.6" y="103.5" width="0.95" height="8.7" fill="#060302"/>
<rect x="661.78" y="107.8" width="2.6" height="3.4" fill="#060302"/>
<rect x="662.48" y="108.4" width="1.2" height="2.2" fill="#3a1c0a"/>
<rect x="665.97" y="105.8" width="0.95" height="16.7" fill="#060302"/>
<rect x="665.15" y="108" width="2.6" height="2.8" fill="#060302"/>
<rect x="665.9" y="108.75" width="1.1" height="1.3" fill="#d8c6b2"/>
<rect x="669.34" y="107.5" width="0.95" height="8.3" fill="#060302"/>
<rect x="668.52" y="107.8" width="2.6" height="7.7" fill="#060302"/>
<rect x="669.22" y="108.4" width="1.2" height="6.5" fill="#3a1c0a"/>
<rect x="672.71" y="108" width="0.95" height="8.5" fill="#060302"/>
<rect x="671.89" y="108.5" width="2.6" height="7" fill="#060302"/>
<rect x="672.64" y="109.25" width="1.1" height="5.5" fill="#a8927c"/>
<rect x="676.08" y="100.5" width="0.95" height="10" fill="#060302"/>
<rect x="675.26" y="101.5" width="2.6" height="7.3" fill="#060302"/>
<rect x="676.01" y="102.25" width="1.1" height="5.8" fill="#a8927c"/>
<rect x="679.46" y="91.2" width="0.95" height="12.3" fill="#060302"/>
<rect x="678.63" y="95.5" width="2.6" height="6.5" fill="#060302"/>
<rect x="679.38" y="96.25" width="1.1" height="5" fill="#a8927c"/>
<rect x="682.83" y="91.2" width="0.95" height="7.8" fill="#060302"/>
<rect x="682" y="95.5" width="2.6" height="2.5" fill="#060302"/>
<rect x="682.7" y="96.1" width="1.2" height="1.3" fill="#3a1c0a"/>
<rect x="686.2" y="96.8" width="0.95" height="47.4" fill="#060302"/>
<rect x="685.37" y="97.2" width="2.6" height="13.6" fill="#060302"/>
<rect x="686.07" y="97.8" width="1.2" height="12.4" fill="#3a1c0a"/>
<rect x="689.57" y="100.5" width="0.95" height="12.5" fill="#060302"/>
<rect x="688.74" y="104.5" width="2.6" height="6" fill="#060302"/>
<rect x="689.49" y="105.25" width="1.1" height="4.5" fill="#a8927c"/>
<rect x="692.94" y="103.2" width="0.95" height="11.8" fill="#060302"/>
<rect x="692.11" y="105.5" width="2.6" height="9" fill="#060302"/>
<rect x="692.81" y="106.1" width="1.2" height="7.8" fill="#3a1c0a"/>
<rect x="696.31" y="108.2" width="0.95" height="19.8" fill="#060302"/>
<rect x="695.48" y="112.5" width="2.6" height="2" fill="#060302"/>
<rect x="699.68" y="109.2" width="0.95" height="16.3" fill="#060302"/>
<rect x="698.85" y="112" width="2.6" height="10.8" fill="#060302"/>
<rect x="699.55" y="112.6" width="1.2" height="9.6" fill="#3a1c0a"/>
<rect x="703.05" y="119.5" width="0.95" height="16.3" fill="#060302"/>
<rect x="702.22" y="122.8" width="2.6" height="4.7" fill="#060302"/>
<rect x="702.92" y="123.4" width="1.2" height="3.5" fill="#3a1c0a"/>
<rect x="706.42" y="125" width="0.95" height="10.8" fill="#060302"/>
<rect x="705.59" y="126.5" width="2.6" height="1.5" fill="#060302"/>
<rect x="709.79" y="120.2" width="0.95" height="8.8" fill="#060302"/>
<rect x="708.96" y="123.5" width="2.6" height="4.7" fill="#060302"/>
<rect x="709.71" y="124.25" width="1.1" height="3.2" fill="#a8927c"/>
<rect x="713.16" y="116" width="0.95" height="25.8" fill="#060302"/>
<rect x="712.33" y="124.2" width="2.6" height="6.3" fill="#060302"/>
<rect x="713.03" y="124.8" width="1.2" height="5.1" fill="#3a1c0a"/>
<rect x="716.53" y="127" width="0.95" height="28" fill="#060302"/>
<rect x="715.7" y="130.2" width="2.6" height="19.8" fill="#060302"/>
<rect x="716.4" y="130.8" width="1.2" height="18.6" fill="#3a1c0a"/>
<rect x="719.9" y="139.8" width="0.95" height="13" fill="#060302"/>
<rect x="719.07" y="145" width="2.6" height="5" fill="#060302"/>
<rect x="719.82" y="145.75" width="1.1" height="3.5" fill="#a8927c"/>
<rect x="723.27" y="128" width="0.95" height="35.8" fill="#060302"/>
<rect x="722.44" y="136.2" width="2.6" height="8.8" fill="#060302"/>
<rect x="723.19" y="136.95" width="1.1" height="7.3" fill="#a8927c"/>
<rect x="726.64" y="118.5" width="0.95" height="31.3" fill="#060302"/>
<rect x="725.81" y="136.2" width="2.6" height="2.3" fill="#060302"/>
<rect x="726.51" y="136.8" width="1.2" height="1.1" fill="#3a1c0a"/>
<rect x="730.01" y="136.8" width="0.95" height="10" fill="#060302"/>
<rect x="729.18" y="138" width="2.6" height="8.2" fill="#060302"/>
<rect x="729.88" y="138.6" width="1.2" height="7" fill="#3a1c0a"/>
<rect x="733.38" y="144.2" width="0.95" height="3.6" fill="#060302"/>
<rect x="732.55" y="144.8" width="2.6" height="2.7" fill="#060302"/>
<rect x="733.3" y="145.55" width="1.1" height="1.2" fill="#d8c6b2"/>
<rect x="736.75" y="141.2" width="0.95" height="12.3" fill="#060302"/>
<rect x="735.92" y="148" width="2.6" height="2.5" fill="#060302"/>
<rect x="736.62" y="148.6" width="1.2" height="1.3" fill="#3a1c0a"/>
<rect x="740.12" y="146.2" width="0.95" height="20" fill="#060302"/>
<rect x="739.29" y="150.5" width="2.6" height="3.5" fill="#060302"/>
<rect x="739.99" y="151.1" width="1.2" height="2.3" fill="#3a1c0a"/>
<rect x="743.49" y="128.5" width="0.95" height="26" fill="#060302"/>
<rect x="742.66" y="129.2" width="2.6" height="24.8" fill="#060302"/>
<rect x="743.41" y="129.95" width="1.1" height="23.3" fill="#a8927c"/>
<rect x="746.86" y="128.2" width="0.95" height="20.3" fill="#060302"/>
<rect x="746.03" y="129.2" width="2.6" height="18.6" fill="#060302"/>
<rect x="746.73" y="129.8" width="1.2" height="17.4" fill="#3a1c0a"/>
<rect x="750.23" y="141.2" width="0.95" height="15.6" fill="#060302"/>
<rect x="749.4" y="145.5" width="2.6" height="2" fill="#060302"/>
<rect x="753.6" y="140.5" width="0.95" height="7" fill="#060302"/>
<rect x="752.77" y="142.5" width="2.6" height="3" fill="#060302"/>
<rect x="753.52" y="143.25" width="1.1" height="1.5" fill="#d8c6b2"/>
<rect x="756.97" y="137.5" width="0.95" height="8.3" fill="#060302"/>
<rect x="756.14" y="138.2" width="2.6" height="6.6" fill="#060302"/>
<rect x="756.89" y="138.95" width="1.1" height="5.1" fill="#a8927c"/>
<rect x="760.34" y="128" width="0.95" height="11.8" fill="#060302"/>
<rect x="759.52" y="135.5" width="2.6" height="3.5" fill="#060302"/>
<rect x="760.22" y="136.1" width="1.2" height="2.3" fill="#3a1c0a"/>
<rect x="763.71" y="130.2" width="0.95" height="14.8" fill="#060302"/>
<rect x="762.89" y="131.2" width="2.6" height="4.8" fill="#060302"/>
<rect x="763.64" y="131.95" width="1.1" height="3.3" fill="#a8927c"/>
<rect x="767.08" y="125.2" width="0.95" height="8.8" fill="#060302"/>
<rect x="766.26" y="127.8" width="2.6" height="3.7" fill="#060302"/>
<rect x="767.01" y="128.55" width="1.1" height="2.2" fill="#d8c6b2"/>
<rect x="770.45" y="111" width="0.95" height="27.5" fill="#060302"/>
<rect x="769.63" y="119.5" width="2.6" height="8.5" fill="#060302"/>
<rect x="770.38" y="120.25" width="1.1" height="7" fill="#a8927c"/>
<rect x="773.82" y="118.5" width="0.95" height="5.5" fill="#060302"/>
<rect x="773" y="119.2" width="2.6" height="1.8" fill="#060302"/>
<rect x="777.19" y="110.8" width="0.95" height="12.2" fill="#060302"/>
<rect x="776.37" y="111.8" width="2.6" height="10.7" fill="#060302"/>
<rect x="777.12" y="112.55" width="1.1" height="9.2" fill="#a8927c"/>
<rect x="780.56" y="107.5" width="0.95" height="9.3" fill="#060302"/>
<rect x="779.74" y="112.5" width="2.6" height="1.5" fill="#060302"/>
<rect x="783.93" y="108.2" width="0.95" height="10.8" fill="#060302"/>
<rect x="783.11" y="111" width="2.6" height="2.5" fill="#060302"/>
<rect x="783.86" y="111.75" width="1.1" height="1" fill="#d8c6b2"/>
<rect x="787.3" y="106.5" width="0.95" height="8" fill="#060302"/>
<rect x="786.48" y="111" width="2.6" height="3" fill="#060302"/>
<rect x="787.18" y="111.6" width="1.2" height="1.8" fill="#3a1c0a"/>
<rect x="790.67" y="100" width="0.95" height="14.8" fill="#060302"/>
<rect x="789.85" y="103.5" width="2.6" height="10.5" fill="#060302"/>
<rect x="790.6" y="104.25" width="1.1" height="9" fill="#a8927c"/>
<rect x="794.04" y="98.2" width="0.95" height="7.6" fill="#060302"/>
<rect x="793.22" y="102.7" width="2.6" height="0.9" fill="#060302"/>
<rect x="797.41" y="105" width="0.95" height="7.8" fill="#060302"/>
<rect x="796.59" y="105.2" width="2.6" height="3.8" fill="#060302"/>
<rect x="797.29" y="105.8" width="1.2" height="2.6" fill="#3a1c0a"/>
<rect x="800.78" y="102.2" width="0.95" height="8.3" fill="#060302"/>
<rect x="799.96" y="103" width="2.6" height="5.8" fill="#060302"/>
<rect x="800.71" y="103.75" width="1.1" height="4.3" fill="#a8927c"/>
<rect x="804.15" y="100" width="0.95" height="11.2" fill="#060302"/>
<rect x="803.33" y="103" width="2.6" height="7.5" fill="#060302"/>
<rect x="804.03" y="103.6" width="1.2" height="6.3" fill="#3a1c0a"/>
<rect x="807.52" y="105.86" width="0.95" height="143.93" fill="#060302"/>
<rect x="806.7" y="110.5" width="2.6" height="127.3" fill="#060302"/>
<rect x="807.4" y="111.1" width="1.2" height="126.1" fill="#3a1c0a"/>
<rect x="810.89" y="222.88" width="0.95" height="69.33" fill="#060302"/>
<rect x="810.07" y="237.19" width="2.6" height="4.04" fill="#060302"/>
<rect x="810.77" y="237.79" width="1.2" height="2.84" fill="#3a1c0a"/>
<rect x="814.26" y="225.33" width="0.95" height="16.75" fill="#060302"/>
<rect x="813.44" y="230.46" width="2.6" height="11.01" fill="#060302"/>
<rect x="814.19" y="231.21" width="1.1" height="9.51" fill="#a8927c"/>
<rect x="817.63" y="201.73" width="0.95" height="75.82" fill="#060302"/>
<rect x="816.81" y="217.99" width="2.6" height="14.67" fill="#060302"/>
<rect x="817.56" y="218.74" width="1.1" height="13.17" fill="#a8927c"/>
<rect x="821" y="204.17" width="0.95" height="28.74" fill="#060302"/>
<rect x="820.18" y="217.01" width="2.6" height="1.47" fill="#060302"/>
<rect x="824.37" y="207.84" width="0.95" height="19.93" fill="#060302"/>
<rect x="823.55" y="216.77" width="2.6" height="1.22" fill="#060302"/>
<rect x="827.74" y="209.92" width="0.95" height="33.99" fill="#060302"/>
<rect x="826.92" y="217.26" width="2.6" height="12.96" fill="#060302"/>
<rect x="827.62" y="217.86" width="1.2" height="11.76" fill="#3a1c0a"/>
<rect x="831.11" y="228.63" width="0.95" height="65.42" fill="#060302"/>
<rect x="830.29" y="229.48" width="2.6" height="42.31" fill="#060302"/>
<rect x="830.99" y="230.08" width="1.2" height="41.11" fill="#3a1c0a"/>
<rect x="834.48" y="265.31" width="0.95" height="10.39" fill="#060302"/>
<rect x="833.66" y="270.82" width="2.6" height="3.67" fill="#060302"/>
<rect x="834.36" y="271.42" width="1.2" height="2.47" fill="#3a1c0a"/>
<rect x="837.85" y="256.75" width="0.95" height="16.51" fill="#060302"/>
<rect x="837.03" y="262.01" width="2.6" height="10.64" fill="#060302"/>
<rect x="837.78" y="262.76" width="1.1" height="9.14" fill="#a8927c"/>
<rect x="841.22" y="247.34" width="0.95" height="19.81" fill="#060302"/>
<rect x="840.4" y="261.03" width="2.6" height="1.47" fill="#060302"/>
<rect x="844.6" y="254.92" width="0.95" height="14.67" fill="#060302"/>
<rect x="843.77" y="261.28" width="2.6" height="5.62" fill="#060302"/>
<rect x="844.47" y="261.88" width="1.2" height="4.42" fill="#3a1c0a"/>
<rect x="847.97" y="254.92" width="0.95" height="21.03" fill="#060302"/>
<rect x="847.14" y="266.17" width="2.6" height="7.7" fill="#060302"/>
<rect x="847.84" y="266.77" width="1.2" height="6.5" fill="#3a1c0a"/>
<rect x="851.34" y="258.34" width="0.95" height="18.83" fill="#060302"/>
<rect x="850.51" y="267.76" width="2.6" height="6.11" fill="#060302"/>
<rect x="851.26" y="268.51" width="1.1" height="4.61" fill="#a8927c"/>
<rect x="854.71" y="262.26" width="0.95" height="41.33" fill="#060302"/>
<rect x="853.88" y="267.76" width="2.6" height="11.01" fill="#060302"/>
<rect x="854.58" y="268.36" width="1.2" height="9.81" fill="#3a1c0a"/>
<rect x="858.08" y="259.2" width="0.95" height="20.18" fill="#060302"/>
<rect x="857.25" y="264.46" width="2.6" height="14.31" fill="#060302"/>
<rect x="858" y="265.21" width="1.1" height="12.81" fill="#a8927c"/>
<rect x="861.45" y="248.19" width="0.95" height="19.93" fill="#060302"/>
<rect x="860.62" y="249.78" width="2.6" height="14.92" fill="#060302"/>
<rect x="861.37" y="250.53" width="1.1" height="13.42" fill="#a8927c"/>
<rect x="864.82" y="233.89" width="0.95" height="17.12" fill="#060302"/>
<rect x="863.99" y="237.19" width="2.6" height="13.45" fill="#060302"/>
<rect x="864.74" y="237.94" width="1.1" height="11.95" fill="#a8927c"/>
<rect x="868.19" y="231.07" width="0.95" height="19.57" fill="#060302"/>
<rect x="867.36" y="237.19" width="2.6" height="8.19" fill="#060302"/>
<rect x="868.06" y="237.79" width="1.2" height="6.99" fill="#3a1c0a"/>
<rect x="871.56" y="228.02" width="0.95" height="26.9" fill="#060302"/>
<rect x="870.73" y="233.15" width="2.6" height="12.23" fill="#060302"/>
<rect x="871.48" y="233.9" width="1.1" height="10.73" fill="#a8927c"/>
<rect x="874.93" y="230.22" width="0.95" height="13.45" fill="#060302"/>
<rect x="874.1" y="232.3" width="2.6" height="9.78" fill="#060302"/>
<rect x="874.8" y="232.9" width="1.2" height="8.58" fill="#3a1c0a"/>
<rect x="878.3" y="241.22" width="0.95" height="11.01" fill="#060302"/>
<rect x="877.47" y="241.47" width="2.6" height="10.03" fill="#060302"/>
<rect x="878.17" y="242.07" width="1.2" height="8.83" fill="#3a1c0a"/>
<rect x="881.67" y="241.71" width="0.95" height="12.96" fill="#060302"/>
<rect x="880.84" y="243.91" width="2.6" height="7.95" fill="#060302"/>
<rect x="881.59" y="244.66" width="1.1" height="6.45" fill="#a8927c"/>
<rect x="885.04" y="241.47" width="0.95" height="14.92" fill="#060302"/>
<rect x="884.21" y="244.52" width="2.6" height="11.37" fill="#060302"/>
<rect x="884.91" y="245.12" width="1.2" height="10.17" fill="#3a1c0a"/>
<rect x="888.41" y="255.96" width="0.95" height="93.6" fill="#060302"/>
<rect x="887.58" y="256.4" width="2.6" height="87.2" fill="#060302"/>
<rect x="888.28" y="257" width="1.2" height="86" fill="#3a1c0a"/>
<rect x="891.78" y="318.89" width="0.95" height="30.93" fill="#060302"/>
<rect x="890.95" y="329.38" width="2.6" height="14.22" fill="#060302"/>
<rect x="891.7" y="330.13" width="1.1" height="12.72" fill="#a8927c"/>
<rect x="895.15" y="325.82" width="0.95" height="22.22" fill="#060302"/>
<rect x="894.32" y="329.11" width="2.6" height="12.18" fill="#060302"/>
<rect x="895.02" y="329.71" width="1.2" height="10.98" fill="#3a1c0a"/>
<rect x="898.52" y="332.22" width="0.95" height="20.27" fill="#060302"/>
<rect x="897.69" y="341.11" width="2.6" height="6.22" fill="#060302"/>
<rect x="898.39" y="341.71" width="1.2" height="5.02" fill="#3a1c0a"/>
<rect x="901.89" y="341.82" width="0.95" height="41.07" fill="#060302"/>
<rect x="901.06" y="348.04" width="2.6" height="17.51" fill="#060302"/>
<rect x="901.76" y="348.64" width="1.2" height="16.31" fill="#3a1c0a"/>
<rect x="905.26" y="329.11" width="0.95" height="37.33" fill="#060302"/>
<rect x="904.43" y="339.33" width="2.6" height="26.84" fill="#060302"/>
<rect x="905.18" y="340.08" width="1.1" height="25.34" fill="#a8927c"/>
<rect x="908.63" y="328.22" width="0.95" height="35.29" fill="#060302"/>
<rect x="907.8" y="333.29" width="2.6" height="6.22" fill="#060302"/>
<rect x="908.55" y="334.04" width="1.1" height="4.72" fill="#a8927c"/>
<rect x="912" y="328.22" width="0.95" height="18.4" fill="#060302"/>
<rect x="911.17" y="333.56" width="2.6" height="1.78" fill="#060302"/>
<rect x="915.37" y="303.22" width="0.95" height="37.33" fill="#060302"/>
<rect x="914.54" y="303.67" width="2.6" height="31.56" fill="#060302"/>
<rect x="915.29" y="304.42" width="1.1" height="30.06" fill="#a8927c"/>
<rect x="918.74" y="292.11" width="0.95" height="13.6" fill="#060302"/>
<rect x="917.91" y="293" width="2.6" height="11.11" fill="#060302"/>
<rect x="918.66" y="293.75" width="1.1" height="9.61" fill="#a8927c"/>
<rect x="922.11" y="291.22" width="0.95" height="16.44" fill="#060302"/>
<rect x="921.28" y="296.56" width="2.6" height="4" fill="#060302"/>
<rect x="921.98" y="297.16" width="1.2" height="2.8" fill="#3a1c0a"/>
<rect x="925.48" y="286.33" width="0.95" height="15.29" fill="#060302"/>
<rect x="924.65" y="287.67" width="2.6" height="13.33" fill="#060302"/>
<rect x="925.4" y="288.42" width="1.1" height="11.83" fill="#a8927c"/>
<rect x="928.85" y="271.93" width="0.95" height="39.73" fill="#060302"/>
<rect x="928.03" y="288.82" width="2.6" height="9.96" fill="#060302"/>
<rect x="928.73" y="289.42" width="1.2" height="8.76" fill="#3a1c0a"/>
<rect x="932.22" y="279.4" width="0.95" height="24.71" fill="#060302"/>
<rect x="931.4" y="280.11" width="2.6" height="18.67" fill="#060302"/>
<rect x="932.15" y="280.86" width="1.1" height="17.17" fill="#a8927c"/>
<rect x="935.59" y="279.22" width="0.95" height="19.11" fill="#060302"/>
<rect x="934.77" y="280.11" width="2.6" height="12.44" fill="#060302"/>
<rect x="935.47" y="280.71" width="1.2" height="11.24" fill="#3a1c0a"/>
<rect x="938.96" y="287.04" width="0.95" height="8.18" fill="#060302"/>
<rect x="938.14" y="292.11" width="2.6" height="0.9" fill="#060302"/>
<rect x="942.33" y="291.22" width="0.95" height="7.11" fill="#060302"/>
<rect x="941.51" y="293.89" width="2.6" height="3.56" fill="#060302"/>
<rect x="942.26" y="294.64" width="1.1" height="2.06" fill="#d8c6b2"/>
<rect x="945.7" y="287.93" width="0.95" height="15.47" fill="#060302"/>
<rect x="944.88" y="291.22" width="2.6" height="0.9" fill="#060302"/>
<rect x="949.07" y="282.78" width="0.95" height="9.78" fill="#060302"/>
<rect x="948.25" y="290.78" width="2.6" height="1.07" fill="#060302"/>
<rect x="952.44" y="290.33" width="0.95" height="51.82" fill="#060302"/>
<rect x="951.62" y="290.6" width="2.6" height="28.8" fill="#060302"/>
<rect x="952.32" y="291.2" width="1.2" height="27.6" fill="#3a1c0a"/>
<rect x="955.81" y="306.33" width="0.95" height="23.11" fill="#060302"/>
<rect x="954.99" y="318.77" width="2.6" height="0.9" fill="#060302"/>
<rect x="959.18" y="304.11" width="0.95" height="19.56" fill="#060302"/>
<rect x="958.36" y="306.33" width="2.6" height="12.89" fill="#060302"/>
<rect x="959.11" y="307.08" width="1.1" height="11.39" fill="#a8927c"/>
<rect x="962.55" y="302.33" width="0.95" height="7.11" fill="#060302"/>
<rect x="961.73" y="306.07" width="2.6" height="2.93" fill="#060302"/>
<rect x="962.43" y="306.67" width="1.2" height="1.73" fill="#3a1c0a"/>
<rect x="965.92" y="305.44" width="0.95" height="20.89" fill="#060302"/>
<rect x="965.1" y="310.33" width="2.6" height="15.11" fill="#060302"/>
<rect x="965.8" y="310.93" width="1.2" height="13.91" fill="#3a1c0a"/>
<rect x="969.29" y="316.39" width="0.95" height="29.24" fill="#060302"/>
<rect x="968.47" y="325.05" width="2.6" height="16.25" fill="#060302"/>
<rect x="969.17" y="325.65" width="1.2" height="15.05" fill="#3a1c0a"/>
<rect x="972.66" y="325.78" width="0.95" height="36.82" fill="#060302"/>
<rect x="971.84" y="341.3" width="2.6" height="12.27" fill="#060302"/>
<rect x="972.54" y="341.9" width="1.2" height="11.07" fill="#3a1c0a"/>
<rect x="976.03" y="342.53" width="0.95" height="20.07" fill="#060302"/>
<rect x="975.21" y="352.85" width="2.6" height="0.94" fill="#060302"/>
<rect x="979.4" y="345.27" width="0.95" height="23.1" fill="#060302"/>
<rect x="978.58" y="353.21" width="2.6" height="10.47" fill="#060302"/>
<rect x="979.28" y="353.81" width="1.2" height="9.27" fill="#3a1c0a"/>
<rect x="982.77" y="362.74" width="0.95" height="11.55" fill="#060302"/>
<rect x="981.95" y="363.32" width="2.6" height="10.69" fill="#060302"/>
<rect x="982.65" y="363.92" width="1.2" height="9.49" fill="#3a1c0a"/>
<rect x="986.14" y="354.3" width="0.95" height="20.43" fill="#060302"/>
<rect x="985.32" y="362.6" width="2.6" height="11.7" fill="#060302"/>
<rect x="986.07" y="363.35" width="1.1" height="10.2" fill="#a8927c"/>
<rect x="989.51" y="359.35" width="0.95" height="59.35" fill="#060302"/>
<rect x="988.69" y="362.6" width="2.6" height="53.72" fill="#060302"/>
<rect x="989.39" y="363.2" width="1.2" height="52.52" fill="#3a1c0a"/></g>
<rect x="992.86" y="415.2" width="1" height="2.8" fill="#060302"/>
<path d="M0 375.99 L5.17 374.96 L10.34 373.2 L12.92 372.17 L15.5 370.62 L20.67 367.31 L25.84 362.35 L31.01 359.04 L36.18 356.67 L41.34 355.63 L45.48 354.91 L51.68 351.81 L56.85 349.43 L62.02 346.64 L67.18 342.71 L72.35 339.1 L77.52 336.51 L82.69 333.41 L87.86 329.79 L93.02 326.18 L98.19 323.59 L103.36 322.56 L108.53 321.32 L113.7 320.49 L118.86 319.97 L124.03 320.18 L129.2 319.46 L134.37 318.94 L139.53 319.97 L143.67 319.97 L146.77 318.11 L149.87 315.84 L152.97 313.98 L156.07 312.74 L159.17 312.02 L162.4 309.97 L166.54 307.08 L170.67 305.01 L173.26 304.29 L176.87 305.84 L181.01 307.91 L185.14 309.97 L190.31 310.8 L194.44 312.04 L198.58 311.21 L203.75 310.8 L207.88 308.94 L212.02 308.42 L215.12 308.11 L218.22 307.08 L221.32 307.08 L224.42 307.91 L226.49 309.97 L228.55 312.56 L231.65 316.18 L234.75 317.73 L237.86 319.28 L240.96 324.44 L244.06 329.61 L247.16 335.81 L250.26 341.81 L253.36 347.18 L256.46 350.8 L259.56 351.52 L262.66 350.8 L266.8 350.8 L270.93 351.11 L274.03 352.35 L277.13 353.59 L282.3 353.59 L286.43 352.87 L289.53 354.42 L293.67 355.97 L297.8 357.52 L301.94 359.38 L305.04 357 L309.17 352.35 L310.34 350.96 L314.47 347.86 L318.6 344.75 L322.74 340.1 L326.87 337 L331.01 333.9 L336.18 330.8 L341.34 326.15 L346.51 322.22 L349.61 321.5 L353.75 318.91 L357.88 317.36 L362.02 315.3 L365.12 313.54 L367.18 313.95 L369.25 316.33 L371.32 318.91 L373.39 320.47 L377.52 320.78 L381.65 320.47 L384.75 318.91 L387.86 316.85 L393.02 316.33 L397.16 316.33 L400.26 315.3 L401.81 312.71 L403.36 310.13 L407.49 307.75 L411.63 307.03 L415.76 305.48 L419.9 304.96 L424.03 302.89 L428.17 301.86 L431.27 300.31 L434.37 297.21 L438.5 294.63 L442.64 292.87 L446.77 291.52 L450.9 287.7 L455.04 286.67 L459.17 284.91 L462.22 283.91 L468.34 281.71 L474.45 280.24 L480.56 277.8 L486.67 275.97 L491.56 271.44 L495.23 268.63 L498.9 263.74 L502.57 260.07 L505.01 257.02 L508.68 253.35 L513.57 250.29 L517.24 246.01 L520.9 239.9 L524.57 235.01 L528.24 229.51 L531.91 224.62 L535.57 221.56 L540.46 218.88 L545.35 215.45 L550.24 214.47 L555.13 212.4 L560.02 209.95 L564.91 207.51 L569.8 205.06 L574.69 202 L578.36 198.34 L582.03 193.45 L585.7 188.56 L588.75 184.89 L591.81 183.06 L594.87 180.61 L595.56 178.89 L601.11 175.78 L605.56 171.11 L610 165.56 L613.33 162.22 L616.67 160.89 L620 160.22 L624.44 157.78 L628.89 156.67 L633.33 153.33 L637.78 150.56 L642.22 147.78 L646.67 143.33 L651.11 138.89 L655.56 134.44 L660 131.11 L664.44 128.33 L668.89 127.22 L673.33 125 L677.78 121.67 L681.11 118.89 L683.89 117.22 L687.78 116.89 L692.22 115.78 L696.67 115.78 L700 116.11 L703.33 117.22 L706.67 118.33 L710 118.33 L713.33 119.44 L716.67 122.22 L720 124.22 L724.44 126.11 L728.89 127.78 L733.78 131.17 L740.67 134.61 L747.56 135.82 L754.45 136.68 L761.34 136.34 L766.5 135.82 L771.67 133.75 L776.84 131.17 L783.73 127.38 L788.89 125.66 L794.06 122.56 L799.23 119.97 L803.53 119.11 L805.26 120.49 L806.98 125.14 L808.7 131.17 L811.28 139.78 L814.73 148.39 L819.04 157 L823.34 163.89 L827.65 170.78 L831.95 181.12 L835.4 189.73 L838.84 196.62 L844.01 206.09 L849.18 215.56 L854.34 224.18 L857.79 228.48 L861.23 231.07 L865.88 232.71 L871.66 233.29 L875.99 234.44 L880.32 236.17 L883.94 237.33 L885.81 238.77 L887.55 243.83 L890.43 251.77 L893.32 258.27 L896.21 264.77 L899.1 271.99 L901.99 280.65 L904.87 284.98 L907.76 289.31 L910.65 293.65 L912.82 295.81 L917.87 295.81 L923.65 295.52 L929.42 295.09 L935.2 293.94 L940.97 293.36 L946.75 293.36 L951.08 294.37 L953.97 296.53 L956.86 298.7 L961.19 299.42 L964.08 300.58 L966.97 303.03 L969.86 307.36 L974.19 312.42 L978.52 317.47 L982.85 323.25 L987.18 329.75 L990.07 336.25 L992.96 343.03" fill="none" stroke="#ff8c00" stroke-width="1.68" stroke-linejoin="round" stroke-linecap="round"/>
<rect x="1067.2" y="291.95" width="23.9" height="1" fill="#ff0000"/>
<rect x="1091.6" y="278.9" width="82.8" height="25.8" fill="none" stroke="#ff0808" stroke-width="1.15"/>
<text transform="translate(1097.37 300.35) scale(0.9569 1.0000)" font-size="22.1" fill="#ff0000" stroke="#ff0000" stroke-width="0.3">157.400</text>
<rect x="1067.3" y="380.25" width="23.8" height="1" fill="#ff0000"/>
<rect x="1091.6" y="367.6" width="82.7" height="25.5" fill="none" stroke="#ff0808" stroke-width="1.15"/>
<text transform="translate(1097.37 389.05) scale(0.9569 1.0000)" font-size="22.1" fill="#ff0000" stroke="#ff0000" stroke-width="0.3">155.400</text>
<rect x="1074.3" y="418.15" width="23.2" height="1" fill="#ff0000"/>
<rect x="1098" y="405.7" width="83.1" height="25.4" fill="none" stroke="#ff0808" stroke-width="1.15"/>
<text transform="translate(1103.77 427.15) scale(0.9569 1.0000)" font-size="22.1" fill="#ff0000" stroke="#ff0000" stroke-width="0.3">154.550</text>
<rect x="1081" y="458.15" width="23.2" height="1" fill="#ff0000"/>
<rect x="1104.7" y="444.9" width="83.3" height="25.5" fill="none" stroke="#ff0808" stroke-width="1.15"/>
<text transform="translate(1110.47 466.35) scale(0.9569 1.0000)" font-size="22.1" fill="#ff0000" stroke="#ff0000" stroke-width="0.3">153.650</text>
<rect x="0" y="415.8" width="1551" height="1.1" fill="#3a3a3a"/>
<text transform="translate(652.66 354.85) scale(0.9797 1.0500)" font-size="27.8" fill="#5b2d0e" stroke="#5b2d0e" stroke-width="0.35">4H Chart</text>
<text y="10.6" font-size="11" fill="#1c1c1c" stroke="#1c1c1c" stroke-width="0.22"><tspan x="2.77" textLength="40.04" lengthAdjust="spacingAndGlyphs">USDJPY,</tspan> <tspan x="46.05" textLength="17.6" lengthAdjust="spacingAndGlyphs">H4:</tspan> <tspan x="68.57" textLength="13.43" lengthAdjust="spacingAndGlyphs">US</tspan> <tspan x="84.62" textLength="23.95" lengthAdjust="spacingAndGlyphs">Dollar</tspan> <tspan x="113.35" textLength="8.56" lengthAdjust="spacingAndGlyphs">vs</tspan> <tspan x="125.86" textLength="40.83" lengthAdjust="spacingAndGlyphs">Japanese</tspan> <tspan x="171.13" textLength="18.85" lengthAdjust="spacingAndGlyphs">Yen</tspan> <tspan x="196.69" textLength="38.36" lengthAdjust="spacingAndGlyphs">154.611</tspan> <tspan x="238.82" textLength="37.91" lengthAdjust="spacingAndGlyphs">154.614</tspan> <tspan x="281.01" textLength="38.23" lengthAdjust="spacingAndGlyphs">154.561</tspan> <tspan x="322.99" textLength="38.46" lengthAdjust="spacingAndGlyphs">154.611</tspan></text>
<rect x="0" y="625" width="1551" height="1" fill="#868686"/>
<rect x="0" y="626" width="1551" height="1" fill="#9b9b9b"/>
<rect x="0" y="627" width="1551" height="1" fill="#484848"/>
<rect x="0" y="628" width="1551" height="1" fill="#ececec"/>
<text y="640.8" font-size="11" fill="#1c1c1c" stroke="#1c1c1c" stroke-width="0.22"><tspan x="1.15" textLength="36.36" lengthAdjust="spacingAndGlyphs">RSI(14)</tspan> <tspan x="40.31" textLength="27.03" lengthAdjust="spacingAndGlyphs">24.93</tspan> <tspan x="70.5" textLength="35.02" lengthAdjust="spacingAndGlyphs">MA(10)</tspan> <tspan x="108.73" textLength="32.81" lengthAdjust="spacingAndGlyphs">32.213</tspan></text>
<rect x="0" y="703.85" width="1551" height="1.65" fill="#000"/>
<rect x="0" y="808.1" width="1551" height="1.8" fill="#000"/>
<path d="M-0.85 754.22 L2.52 752.22 L5.89 742.22 L9.26 746.67 L12.63 750.56 L16 732.44 L19.37 734.44 L22.74 728.33 L26.11 722.44 L29.48 722.44 L32.85 733.89 L36.22 733.89 L39.59 742 L42.96 740.89 L46.33 735.56 L49.7 730.89 L53.07 724.67 L56.44 721.33 L59.81 725.78 L63.18 711.67 L66.55 711.11 L69.92 718.33 L73.29 717 L76.66 717 L80.03 703.33 L83.4 718.33 L86.77 711.67 L90.15 709.78 L93.52 714.44 L96.89 713.33 L100.26 728.33 L103.63 730.56 L107 730.89 L110.37 737.78 L113.74 744.44 L117.11 730.56 L120.48 743.33 L123.85 737.56 L127.22 743.56 L130.59 739.44 L133.96 759.44 L137.33 745 L140.7 760.89 L144.07 740.22 L147.44 728.33 L150.81 717.22 L154.18 728.89 L157.55 740.22 L160.92 735.56 L164.29 712 L167.66 717.22 L171.03 733.33 L174.4 746.67 L177.77 762.22 L181.14 776.44 L184.51 775 L187.88 766.67 L191.25 770 L194.62 772.22 L197.99 739.11 L201.36 761.11 L204.73 747.78 L208.1 742.44 L211.47 750.56 L214.84 753.11 L218.21 738.67 L221.58 754.44 L224.95 766.67 L228.32 792.22 L231.69 794.11 L235.06 776.11 L238.43 779.44 L241.8 805 L245.17 810 L248.54 816.11 L251.91 812.22 L255.29 792.78 L258.66 773.89 L262.03 756.67 L265.4 760.33 L268.77 760.33 L272.14 760.33 L275.51 775.56 L278.88 775 L282.25 756.67 L285.62 752.56 L288.99 768.33 L292.36 774.78 L295.73 769.44 L299.1 775 L302.47 780.56 L305.84 735.56 L309.21 738.33 L312.58 738.33 L315.95 734.78 L319.32 733.89 L322.69 726.33 L326.06 733.33 L329.43 732.56 L332.8 732.44 L336.17 732.22 L339.54 723.89 L342.91 722.78 L346.28 726.67 L349.65 744.44 L353.02 726.44 L356.39 739.11 L359.76 737.22 L363.13 735 L366.5 733.11 L369.87 780 L373.24 790.89 L376.61 757.22 L379.98 755 L383.35 747.22 L386.72 740.89 L390.09 748.89 L393.46 755.33 L396.83 749.44 L400.2 742.78 L403.57 722.78 L406.94 741.11 L410.31 747.78 L413.68 746.11 L417.05 746.67 L420.42 748.67 L423.8 742.44 L427.17 743.33 L430.54 734.44 L433.91 728 L437.28 732.22 L440.65 736.11 L444.02 738 L447.39 737.22 L450.76 721.33 L454.13 736.67 L457.5 744.67 L460.87 738.89 L464.24 737.56 L467.61 739.44 L470.98 742.22 L474.35 737.22 L477.72 736.11 L481.09 728.67 L484.46 731.33 L487.83 724.44 L491.2 713.33 L494.57 706.67 L497.94 697.22 L501.31 695 L504.68 690.22 L508.05 709.44 L511.42 713.11 L514.79 708.89 L518.16 691.67 L521.53 684.22 L524.9 686.11 L528.27 685 L531.64 688.33 L535.01 689.11 L538.38 721.67 L541.75 709.44 L545.12 721.11 L548.49 732.78 L551.86 731.11 L555.23 728.89 L558.6 719.44 L561.97 717.56 L565.34 724.22 L568.71 721.33 L572.08 719.44 L575.45 706.67 L578.82 696.11 L582.19 687.22 L585.56 683.33 L588.93 692.78 L592.3 720 L595.68 712 L599.05 722.22 L602.42 711.11 L605.79 708.33 L609.16 699.44 L612.53 706.11 L615.9 716.67 L619.27 739.44 L622.64 726.44 L626.01 727.78 L629.38 734.22 L632.75 723.33 L636.12 720.56 L639.49 725 L642.86 712 L646.23 706.67 L649.6 712.22 L652.97 708.89 L656.34 705.33 L659.71 711.67 L663.08 716.67 L666.45 715.33 L669.82 727.78 L673.19 720.56 L676.56 713.89 L679.93 708.33 L683.3 710.56 L686.67 734.44 L690.04 728 L693.41 744.44 L696.78 741.33 L700.15 757.78 L703.52 764.67 L706.89 764.67 L710.26 759.11 L713.63 768.33 L717 788.89 L720.37 783.33 L723.74 770 L727.11 771.67 L730.48 781.33 L733.85 779.44 L737.22 785.56 L740.59 789.44 L743.96 752.44 L747.33 773.11 L750.7 767.78 L754.07 762.78 L757.44 758 L760.82 755 L764.19 750.89 L767.56 746.44 L770.93 735.33 L774.3 737.5 L777.67 728.2 L781.04 729 L784.41 726.2 L787.78 731.8 L791.15 718.5 L794.52 720 L797.89 730 L801.26 723 L804.63 733 L808 833.33 L811.37 833.33 L814.74 821.33 L818.11 808.89 L821.48 807.56 L824.85 807.56 L828.22 815.56 L831.59 830.22 L834.96 830.22 L838.33 816.44 L841.7 816.44 L845.07 818.67 L848.44 822.22 L851.81 814.22 L855.18 818.67 L858.55 802.67 L861.92 785.78 L865.29 774.22 L868.66 779.11 L872.03 767.56 L875.4 774.67 L878.77 781.33 L882.14 774.22 L885.51 783.11 L888.88 823.11 L892.25 810.67 L895.62 814.22 L898.99 816 L902.36 823.11 L905.73 799.56 L909.1 795.56 L912.47 795.5 L915.84 771.5 L919.21 765 L922.58 769 L925.95 761 L929.33 767 L932.7 755 L936.07 763 L939.44 763 L942.81 763 L946.18 760.8 L949.55 761 L952.92 782.2 L956.29 782.2 L959.66 770.2 L963.03 772 L966.4 784 L969.77 794 L973.14 800.2 L976.51 800.5 L979.88 806.5 L983.25 812.2 L986.62 797.8 L989.99 821.8 L993.36 821.8" fill="none" stroke="#4a2a12" stroke-width="1.5" stroke-linejoin="round" stroke-linecap="round"/>
<path d="M0 755.33 L3.33 754.44 L6.67 752.78 L12.22 751.11 L16.67 747.22 L22.22 742.78 L26.11 738.33 L29.44 735.56 L34.44 734.67 L38.89 736.44 L44.44 736.44 L48.89 736.67 L53.33 733.33 L56.67 731.11 L60 730.22 L63.33 727.22 L66.67 724.44 L70 723.33 L73.33 722 L76.67 720.89 L80 717.78 L83.33 716.89 L86.67 716.67 L90 715.33 L93.33 714.67 L96.67 714.67 L100 717.22 L103.33 719.11 L106.67 721.11 L110 723.89 L113.33 727.78 L116.67 728.33 L119.44 730.89 L123.89 733.33 L127.22 735 L130.56 735.78 L133.89 739.44 L137.22 740.56 L140.56 744.22 L143.33 744.44 L147.22 740.56 L150.56 736.44 L153.89 734.67 L157.22 736.11 L160.56 735.56 L163.89 731.67 L167.22 729.11 L170.56 729.44 L173.89 732.78 L177.22 738.89 L180.56 745.56 L183.89 750.56 L187.22 753.33 L190.56 756.67 L193.89 758.67 L197.22 756.11 L200.56 755.78 L203.89 755 L208.33 752.78 L211.67 752 L215 751.67 L218.33 750 L221.67 752.22 L224.44 753.33 L227.78 760.56 L231.11 767.22 L235 768.89 L238.33 770.56 L241.67 777.22 L245 783.89 L248.33 789.44 L251.67 793 L255 793 L258.33 791.11 L261.67 785 L265 780 L269.44 776.11 L273.89 773.89 L278.89 773.33 L282.78 770 L286.67 766.67 L290.56 768.33 L293.89 768.33 L297.22 768.56 L300.56 770 L302.78 770.56 L305 766.67 L309.44 760.56 L313.89 754.44 L318.33 749.44 L322.78 744.78 L327.22 742.56 L331.67 740 L333.89 738.89 L338.33 736.44 L342.78 733.33 L345 732.22 L348.33 733.33 L352.78 733.33 L357.22 733.89 L361.67 733.89 L366.11 733.89 L367.78 736.67 L369.44 742.22 L371.67 748.89 L373.89 751.67 L377.22 752.78 L381.67 752.78 L385 751.11 L388.33 748.89 L391.67 750 L396.11 750 L400 750 L401.67 747.78 L403.89 744.22 L408.33 743.89 L412.78 744.44 L417.22 745 L421.67 744.67 L426.11 745 L429.44 743.33 L432.78 740.89 L436.11 738.89 L439.44 738.67 L443.89 738.33 L447.22 738 L450.56 735.56 L452.78 734.44 L456.11 736.44 L459.44 737.56 L463.89 737.22 L468.33 737.78 L472.78 738.33 L477.22 738 L481.67 736.11 L485 735 L488.33 732.78 L491.67 729.44 L495 725 L498.33 720 L501.67 715 L504.44 711.67 L508.33 711.11 L512.78 711.33 L516.11 708.89 L519.44 705.56 L522.78 701.67 L526.11 698.67 L529.44 696.67 L532.78 695.33 L535.56 696.11 L538.33 699.44 L541.67 701.11 L545 704.44 L548.33 708.89 L551.67 713.89 L555 716.44 L558.33 716.67 L561.67 716.67 L565 718 L569.44 718 L575 718 L578.33 713.33 L581.67 708.89 L585 703.89 L588.89 702.22 L591.67 703.89 L595 706.44 L599.44 709.44 L602.78 710 L606.11 709.44 L609.44 707.56 L612.78 707.56 L615.56 708.33 L618.89 714.22 L622.78 716.44 L626.11 718.89 L630 721.67 L633.89 721.33 L638.33 721.33 L641.67 720.56 L646.11 717.78 L649.44 717.22 L652.78 715.56 L656.11 713.89 L659.44 712.78 L663.89 713.56 L667.22 714.67 L670.56 716.44 L677.22 716.44 L681.67 714.67 L684.44 715.78 L687.22 717.78 L690.56 720.56 L693.89 724.44 L697.22 728.33 L700.56 733.89 L703.89 740 L707.22 744.44 L710.56 747.22 L713.89 752.22 L717.22 758.33 L720.56 762.22 L725 764.67 L729.44 767.56 L733.89 770.22 L737.22 773.33 L740.56 776.44 L743.89 772.78 L748.33 772.22 L752.78 771.11 L757.22 768.89 L761.67 766.11 L766.11 762.22 L769 758.5 L773 754 L777 748 L781 744 L785 740.5 L788.5 738.5 L791.5 734.5 L795 732.5 L798 732 L801 730.8 L803.5 731.2 L805 733 L806.2 738 L807.5 746 L809 754 L810.5 760.5 L811.89 767.11 L814.11 774.22 L817.22 781.33 L820.78 786.67 L824.33 791.11 L828.78 796 L832.33 802.22 L835 806.67 L837.67 808 L841.22 810.67 L844.78 812.44 L847.44 813.33 L851 813.33 L853.67 814.22 L857.22 813.33 L860.33 810.67 L862.56 805.78 L864.78 801.33 L868.78 797.33 L871.44 792.44 L875 788.62 L877.67 788 L880.33 786.22 L883 784.44 L885.67 784.71 L887.44 787.56 L889.22 791.56 L892.78 795.11 L896.33 799.11 L899.89 803.11 L902.56 805.33 L904 805.2 L907 803.8 L910 802.2 L912.5 802.2 L915 798 L918 792.5 L922 787 L926 781.5 L929.5 779 L933 774.5 L936.5 771.8 L940 770 L943 768.5 L946 768.5 L949.5 766.5 L952 768.5 L955 771 L959 771.2 L962.5 771.2 L965 772.5 L968 775.5 L971 778.5 L974 782.5 L977 785.5 L980 789.5 L983 793.8 L986 794 L989 798.5 L993.5 803.8" fill="none" stroke="#ff8c00" stroke-width="1.65" stroke-linejoin="round" stroke-linecap="round"/>
<rect x="0" y="886.7" width="1551" height="1.25" fill="#484848"/>
<rect x="-1.6" y="887" width="1.2" height="3.7" fill="#2a2a2a"/>
<text y="900.1" font-size="11" fill="#1c1c1c" stroke="#1c1c1c" stroke-width="0.22"><tspan x="-1.69" textLength="11.84" lengthAdjust="spacingAndGlyphs">17</tspan> <tspan x="13.42" textLength="17.23" lengthAdjust="spacingAndGlyphs">May</tspan> <tspan x="34.74" textLength="22.88" lengthAdjust="spacingAndGlyphs">2024</tspan></text>
<rect x="106.3" y="887" width="1.2" height="3.7" fill="#2a2a2a"/>
<text y="900.1" font-size="11" fill="#1c1c1c" stroke="#1c1c1c" stroke-width="0.22"><tspan x="105.71" textLength="12.03" lengthAdjust="spacingAndGlyphs">26</tspan> <tspan x="121.52" textLength="17.13" lengthAdjust="spacingAndGlyphs">May</tspan> <tspan x="142.41" textLength="27.13" lengthAdjust="spacingAndGlyphs">20:00</tspan></text>
<rect x="213.8" y="887" width="1.2" height="3.7" fill="#2a2a2a"/>
<text y="900.1" font-size="11" fill="#1c1c1c" stroke="#1c1c1c" stroke-width="0.22"><tspan x="214.26" textLength="5.33" lengthAdjust="spacingAndGlyphs">3</tspan> <tspan x="223.15" textLength="15.85" lengthAdjust="spacingAndGlyphs">Jun</tspan> <tspan x="242.43" textLength="26.91" lengthAdjust="spacingAndGlyphs">00:00</tspan></text>
<rect x="321.8" y="887" width="1.2" height="3.7" fill="#2a2a2a"/>
<text y="900.1" font-size="11" fill="#1c1c1c" stroke="#1c1c1c" stroke-width="0.22"><tspan x="322.48" textLength="10.61" lengthAdjust="spacingAndGlyphs">10</tspan> <tspan x="337.45" textLength="15.54" lengthAdjust="spacingAndGlyphs">Jun</tspan> <tspan x="356.73" textLength="26.6" lengthAdjust="spacingAndGlyphs">04:00</tspan></text>
<rect x="429.7" y="887" width="1.2" height="3.7" fill="#2a2a2a"/>
<text y="900.1" font-size="11" fill="#1c1c1c" stroke="#1c1c1c" stroke-width="0.22"><tspan x="430.38" textLength="10.72" lengthAdjust="spacingAndGlyphs">17</tspan> <tspan x="445.35" textLength="15.54" lengthAdjust="spacingAndGlyphs">Jun</tspan> <tspan x="464.63" textLength="26.71" lengthAdjust="spacingAndGlyphs">08:00</tspan></text>
<rect x="537.7" y="887" width="1.2" height="3.7" fill="#2a2a2a"/>
<text y="900.1" font-size="11" fill="#1c1c1c" stroke="#1c1c1c" stroke-width="0.22"><tspan x="537.66" textLength="10.95" lengthAdjust="spacingAndGlyphs">24</tspan> <tspan x="553.35" textLength="15.54" lengthAdjust="spacingAndGlyphs">Jun</tspan> <tspan x="572.7" textLength="26.73" lengthAdjust="spacingAndGlyphs">12:00</tspan></text>
<rect x="645.7" y="887" width="1.2" height="3.7" fill="#2a2a2a"/>
<text y="900.1" font-size="11" fill="#1c1c1c" stroke="#1c1c1c" stroke-width="0.22"><tspan x="646.28" textLength="4.55" lengthAdjust="spacingAndGlyphs">1</tspan> <tspan x="655.27" textLength="10.81" lengthAdjust="spacingAndGlyphs">Jul</tspan> <tspan x="670.51" textLength="26.42" lengthAdjust="spacingAndGlyphs">16:00</tspan></text>
<rect x="753.5" y="887" width="1.2" height="3.7" fill="#2a2a2a"/>
<text y="900.1" font-size="11" fill="#1c1c1c" stroke="#1c1c1c" stroke-width="0.22"><tspan x="753.53" textLength="5.79" lengthAdjust="spacingAndGlyphs">8</tspan> <tspan x="763.16" textLength="10.92" lengthAdjust="spacingAndGlyphs">Jul</tspan> <tspan x="777.81" textLength="26.82" lengthAdjust="spacingAndGlyphs">20:00</tspan></text>
<rect x="861.4" y="887" width="1.2" height="3.7" fill="#2a2a2a"/>
<text y="900.1" font-size="11" fill="#1c1c1c" stroke="#1c1c1c" stroke-width="0.22"><tspan x="861.75" textLength="11.06" lengthAdjust="spacingAndGlyphs">16</tspan> <tspan x="876.86" textLength="10.92" lengthAdjust="spacingAndGlyphs">Jul</tspan> <tspan x="891.43" textLength="26.6" lengthAdjust="spacingAndGlyphs">00:00</tspan></text>
<rect x="969" y="887" width="1.2" height="3.7" fill="#2a2a2a"/>
<text y="900.1" font-size="11" fill="#1c1c1c" stroke="#1c1c1c" stroke-width="0.22"><tspan x="968.8" textLength="12.25" lengthAdjust="spacingAndGlyphs">23</tspan> <tspan x="984.76" textLength="11.23" lengthAdjust="spacingAndGlyphs">Jul</tspan> <tspan x="999.73" textLength="26.6" lengthAdjust="spacingAndGlyphs">04:00</tspan></text>
</svg></body></html>
